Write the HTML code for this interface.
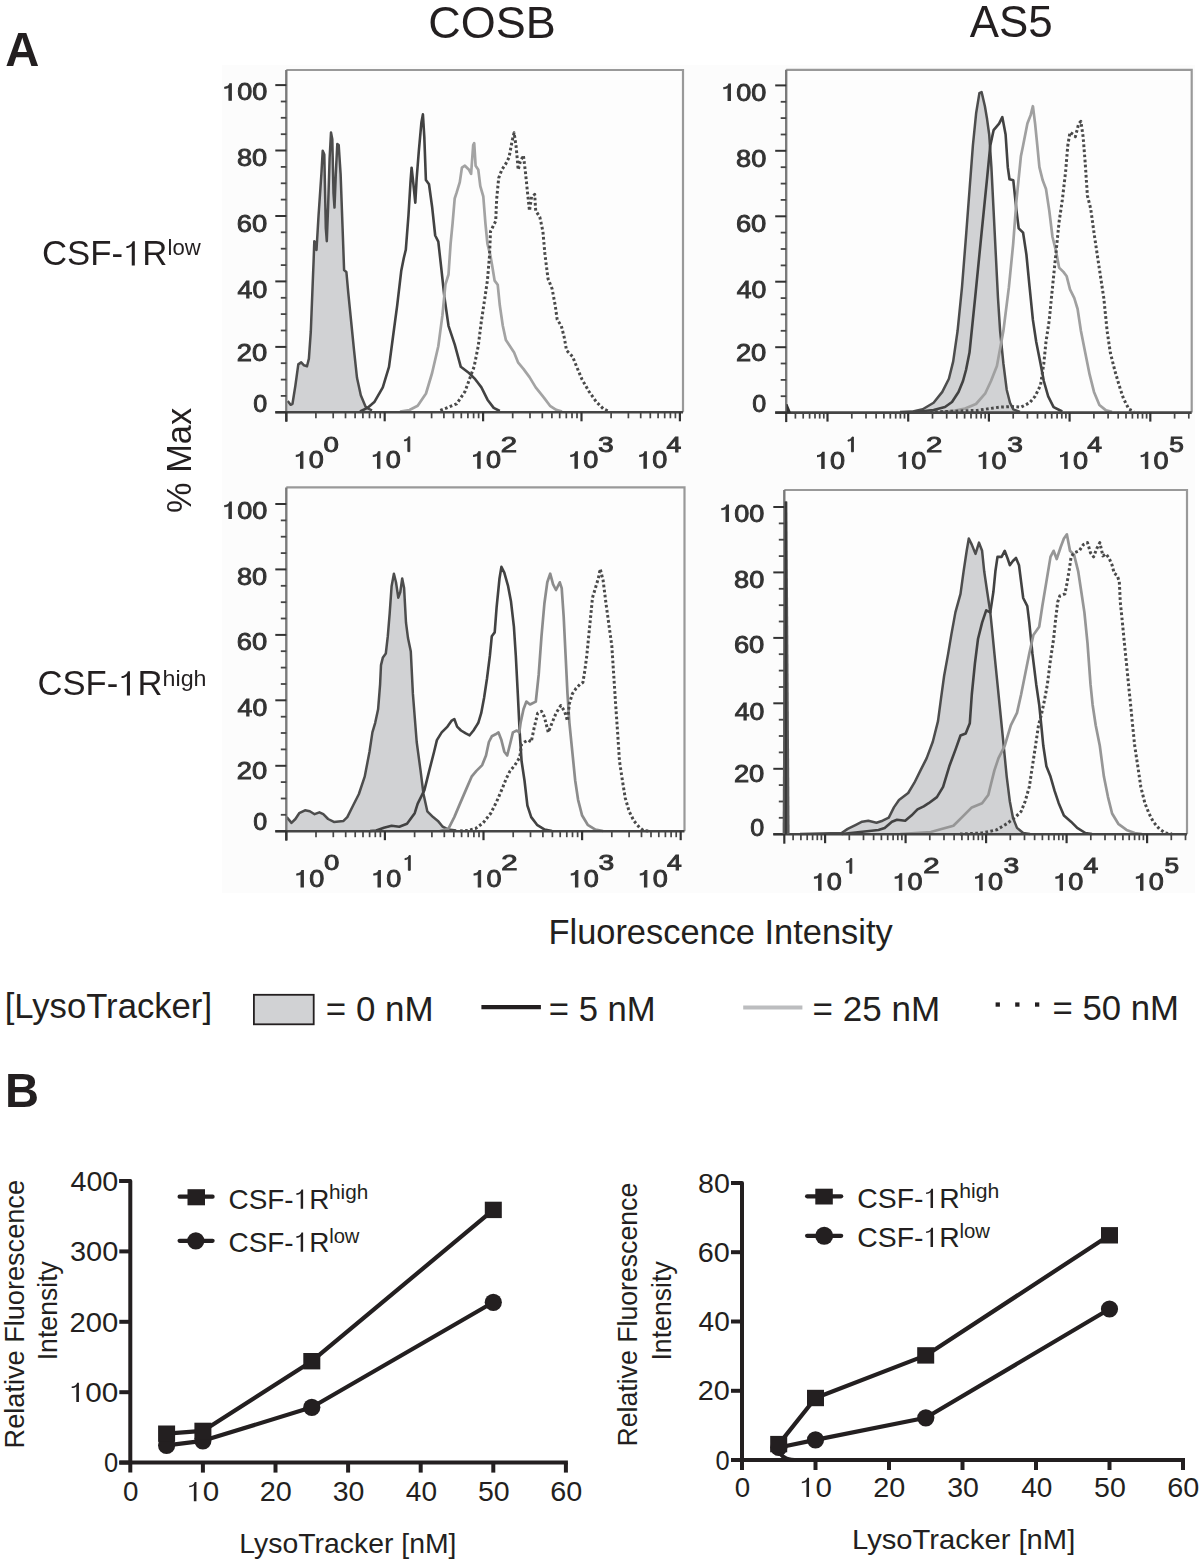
<!DOCTYPE html>
<html><head><meta charset="utf-8"><style>
html,body{margin:0;padding:0;background:#fff;}
svg{display:block;}
text{font-family:"Liberation Sans",sans-serif;}
</style></head><body>
<svg width="1200" height="1559" viewBox="0 0 1200 1559">
<defs><filter id="soft" x="0" y="0" width="1200" height="1559" filterUnits="userSpaceOnUse"><feGaussianBlur stdDeviation="0.55"/></filter></defs>
<rect width="1200" height="1559" fill="#fff"/>
<rect x="222" y="65" width="973" height="828" fill="#fcfcfc"/>
<g filter="url(#soft)">
<rect x="286.3" y="70" width="396.7" height="342.3" fill="#fdfdfd"/>
<rect x="786.2" y="69.8" width="405.5" height="342.8" fill="#fdfdfd"/>
<rect x="286.3" y="487.4" width="398.2" height="343.80000000000007" fill="#fdfdfd"/>
<rect x="784.3" y="490" width="402.70000000000005" height="344.20000000000005" fill="#fdfdfd"/>
<path d="M287.7,401.0 L290.6,404.8 L292.5,403.8 L295.4,385.5 L298.3,364.4 L301.2,362.4 L304.0,365.3 L307.0,366.3 L308.9,358.6 L310.8,331.7 L312.7,283.6 L313.7,258.5 L314.3,241.2 L315.6,243.2 L316.5,250.0 L318.5,216.2 L321.4,173.9 L322.7,150.8 L324.3,154.6 L325.8,227.8 L326.8,241.2 L328.1,206.6 L329.6,158.5 L331.0,132.5 L332.3,139.2 L333.5,193.1 L334.5,207.6 L335.8,173.9 L337.3,144.0 L338.7,145.0 L340.6,173.9 L342.5,225.8 L344.1,270.1 L346.4,272.0 L348.3,293.2 L351.2,322.0 L354.1,350.9 L357.0,377.8 L360.8,395.2 L365.6,406.7 L368.5,408.6 L372.0,410.5 L372.0,412.3 L287.7,412.3 Z" fill="#d1d2d4" stroke="none"/>
<path d="M287.7,401.0 L290.6,404.8 L292.5,403.8 L295.4,385.5 L298.3,364.4 L301.2,362.4 L304.0,365.3 L307.0,366.3 L308.9,358.6 L310.8,331.7 L312.7,283.6 L313.7,258.5 L314.3,241.2 L315.6,243.2 L316.5,250.0 L318.5,216.2 L321.4,173.9 L322.7,150.8 L324.3,154.6 L325.8,227.8 L326.8,241.2 L328.1,206.6 L329.6,158.5 L331.0,132.5 L332.3,139.2 L333.5,193.1 L334.5,207.6 L335.8,173.9 L337.3,144.0 L338.7,145.0 L340.6,173.9 L342.5,225.8 L344.1,270.1 L346.4,272.0 L348.3,293.2 L351.2,322.0 L354.1,350.9 L357.0,377.8 L360.8,395.2 L365.6,406.7 L368.5,408.6 L372.0,410.5" fill="none" stroke="#4d4d4d" stroke-width="2.5" stroke-linejoin="round" stroke-linecap="butt"/>
<path d="M360.0,411.5 L367.4,407.9 L374.6,401.7 L382.8,387.4 L389.0,366.8 L393.1,336.0 L397.2,305.3 L401.3,270.4 L403.8,258.0 L405.8,249.8 L408.5,215.0 L410.5,182.1 L411.6,167.7 L413.2,182.1 L415.3,202.6 L416.7,178.0 L418.8,151.3 L421.4,122.6 L422.9,114.4 L424.3,136.9 L425.9,180.0 L429.0,184.2 L432.1,206.7 L435.2,235.5 L438.3,241.6 L441.3,268.3 L444.4,297.0 L448.5,325.8 L454.7,344.3 L460.8,366.8 L469.0,373.0 L475.2,379.2 L481.4,387.4 L487.5,399.7 L493.7,407.9 L499.8,411.0" fill="none" stroke="#424242" stroke-width="2.6" stroke-linejoin="round" stroke-linecap="butt"/>
<path d="M400.0,411.5 L409.5,410.0 L417.7,405.8 L426.0,393.5 L432.1,373.0 L438.3,346.3 L442.4,315.5 L445.4,284.7 L448.5,274.5 L450.6,243.7 L452.6,223.2 L454.7,198.5 L456.7,192.4 L459.8,182.1 L461.9,167.7 L464.9,165.7 L469.0,169.8 L471.1,173.9 L473.2,145.2 L474.2,143.1 L475.6,165.7 L478.3,169.8 L480.3,186.2 L483.3,196.5 L485.4,223.2 L487.4,243.7 L490.5,256.0 L492.6,268.3 L494.6,280.6 L497.7,284.7 L499.8,305.3 L502.8,325.8 L505.9,340.1 L510.0,346.3 L514.1,352.5 L518.2,362.7 L523.4,368.9 L529.5,377.1 L535.7,387.4 L543.9,397.6 L550.0,405.8 L556.2,409.9 L562.0,411.5" fill="none" stroke="#a3a3a3" stroke-width="2.7" stroke-linejoin="round" stroke-linecap="butt"/>
<path d="M440.3,410.5 L456.7,403.8 L465.0,391.5 L471.0,375.0 L474.1,366.8 L478.2,346.3 L481.3,321.7 L484.4,301.1 L487.4,280.6 L489.5,256.0 L490.5,231.4 L492.6,227.3 L495.7,221.1 L496.7,198.5 L498.7,178.0 L501.8,169.8 L505.9,163.6 L509.0,157.5 L512.1,141.0 L514.1,132.8 L516.2,147.2 L518.2,169.8 L520.3,161.6 L523.4,155.4 L525.4,171.8 L527.5,192.4 L529.5,210.8 L531.6,196.5 L534.7,194.4 L535.7,210.8 L539.8,217.0 L542.9,231.4 L544.9,253.9 L548.0,278.6 L552.1,288.8 L555.2,305.3 L557.2,319.6 L561.3,325.8 L564.4,338.1 L566.5,350.4 L572.6,356.6 L576.7,366.8 L581.9,379.2 L589.0,391.5 L596.2,401.7 L603.4,408.9 L608.0,411.0" fill="none" stroke="#4a4a4a" stroke-width="3.0" stroke-linejoin="round" stroke-linecap="butt" stroke-dasharray="2.7 2.4"/>
<polyline points="286.3,70 683,70 683,412.3" fill="none" stroke="#999" stroke-width="2.2"/>
<line x1="286.3" y1="70" x2="286.3" y2="412.3" stroke="#7a7a7a" stroke-width="2.4"/>
<line x1="275.3" y1="412.3" x2="683" y2="412.3" stroke="#444" stroke-width="2.6"/>
<line x1="275.3" y1="412.3" x2="286.3" y2="412.3" stroke="#333" stroke-width="2"/>
<line x1="280.8" y1="395.9" x2="286.3" y2="395.9" stroke="#444" stroke-width="1.8"/>
<line x1="280.8" y1="379.6" x2="286.3" y2="379.6" stroke="#444" stroke-width="1.8"/>
<line x1="280.8" y1="363.2" x2="286.3" y2="363.2" stroke="#444" stroke-width="1.8"/>
<line x1="275.3" y1="346.9" x2="286.3" y2="346.9" stroke="#333" stroke-width="2"/>
<line x1="280.8" y1="330.5" x2="286.3" y2="330.5" stroke="#444" stroke-width="1.8"/>
<line x1="280.8" y1="314.1" x2="286.3" y2="314.1" stroke="#444" stroke-width="1.8"/>
<line x1="280.8" y1="297.8" x2="286.3" y2="297.8" stroke="#444" stroke-width="1.8"/>
<line x1="275.3" y1="281.4" x2="286.3" y2="281.4" stroke="#333" stroke-width="2"/>
<line x1="280.8" y1="265.1" x2="286.3" y2="265.1" stroke="#444" stroke-width="1.8"/>
<line x1="280.8" y1="248.7" x2="286.3" y2="248.7" stroke="#444" stroke-width="1.8"/>
<line x1="280.8" y1="232.3" x2="286.3" y2="232.3" stroke="#444" stroke-width="1.8"/>
<line x1="275.3" y1="216.0" x2="286.3" y2="216.0" stroke="#333" stroke-width="2"/>
<line x1="280.8" y1="199.6" x2="286.3" y2="199.6" stroke="#444" stroke-width="1.8"/>
<line x1="280.8" y1="183.3" x2="286.3" y2="183.3" stroke="#444" stroke-width="1.8"/>
<line x1="280.8" y1="166.9" x2="286.3" y2="166.9" stroke="#444" stroke-width="1.8"/>
<line x1="275.3" y1="150.5" x2="286.3" y2="150.5" stroke="#333" stroke-width="2"/>
<line x1="280.8" y1="134.2" x2="286.3" y2="134.2" stroke="#444" stroke-width="1.8"/>
<line x1="280.8" y1="117.8" x2="286.3" y2="117.8" stroke="#444" stroke-width="1.8"/>
<line x1="280.8" y1="101.5" x2="286.3" y2="101.5" stroke="#444" stroke-width="1.8"/>
<line x1="275.3" y1="85.1" x2="286.3" y2="85.1" stroke="#333" stroke-width="2"/>
<line x1="286.3" y1="412.3" x2="286.3" y2="421.3" stroke="#333" stroke-width="2.2"/>
<line x1="315.9" y1="412.3" x2="315.9" y2="418.3" stroke="#444" stroke-width="1.7"/>
<line x1="333.2" y1="412.3" x2="333.2" y2="418.3" stroke="#444" stroke-width="1.7"/>
<line x1="345.5" y1="412.3" x2="345.5" y2="418.3" stroke="#444" stroke-width="1.7"/>
<line x1="355.1" y1="412.3" x2="355.1" y2="418.3" stroke="#444" stroke-width="1.7"/>
<line x1="362.9" y1="412.3" x2="362.9" y2="418.3" stroke="#444" stroke-width="1.7"/>
<line x1="369.5" y1="412.3" x2="369.5" y2="418.3" stroke="#444" stroke-width="1.7"/>
<line x1="375.2" y1="412.3" x2="375.2" y2="418.3" stroke="#444" stroke-width="1.7"/>
<line x1="380.2" y1="412.3" x2="380.2" y2="418.3" stroke="#444" stroke-width="1.7"/>
<line x1="384.7" y1="412.3" x2="384.7" y2="421.3" stroke="#333" stroke-width="2.2"/>
<line x1="414.3" y1="412.3" x2="414.3" y2="418.3" stroke="#444" stroke-width="1.7"/>
<line x1="431.6" y1="412.3" x2="431.6" y2="418.3" stroke="#444" stroke-width="1.7"/>
<line x1="443.9" y1="412.3" x2="443.9" y2="418.3" stroke="#444" stroke-width="1.7"/>
<line x1="453.5" y1="412.3" x2="453.5" y2="418.3" stroke="#444" stroke-width="1.7"/>
<line x1="461.3" y1="412.3" x2="461.3" y2="418.3" stroke="#444" stroke-width="1.7"/>
<line x1="467.9" y1="412.3" x2="467.9" y2="418.3" stroke="#444" stroke-width="1.7"/>
<line x1="473.6" y1="412.3" x2="473.6" y2="418.3" stroke="#444" stroke-width="1.7"/>
<line x1="478.6" y1="412.3" x2="478.6" y2="418.3" stroke="#444" stroke-width="1.7"/>
<line x1="483.1" y1="412.3" x2="483.1" y2="421.3" stroke="#333" stroke-width="2.2"/>
<line x1="512.7" y1="412.3" x2="512.7" y2="418.3" stroke="#444" stroke-width="1.7"/>
<line x1="530.0" y1="412.3" x2="530.0" y2="418.3" stroke="#444" stroke-width="1.7"/>
<line x1="542.3" y1="412.3" x2="542.3" y2="418.3" stroke="#444" stroke-width="1.7"/>
<line x1="551.9" y1="412.3" x2="551.9" y2="418.3" stroke="#444" stroke-width="1.7"/>
<line x1="559.7" y1="412.3" x2="559.7" y2="418.3" stroke="#444" stroke-width="1.7"/>
<line x1="566.3" y1="412.3" x2="566.3" y2="418.3" stroke="#444" stroke-width="1.7"/>
<line x1="572.0" y1="412.3" x2="572.0" y2="418.3" stroke="#444" stroke-width="1.7"/>
<line x1="577.0" y1="412.3" x2="577.0" y2="418.3" stroke="#444" stroke-width="1.7"/>
<line x1="581.5" y1="412.3" x2="581.5" y2="421.3" stroke="#333" stroke-width="2.2"/>
<line x1="611.1" y1="412.3" x2="611.1" y2="418.3" stroke="#444" stroke-width="1.7"/>
<line x1="628.4" y1="412.3" x2="628.4" y2="418.3" stroke="#444" stroke-width="1.7"/>
<line x1="640.7" y1="412.3" x2="640.7" y2="418.3" stroke="#444" stroke-width="1.7"/>
<line x1="650.3" y1="412.3" x2="650.3" y2="418.3" stroke="#444" stroke-width="1.7"/>
<line x1="658.1" y1="412.3" x2="658.1" y2="418.3" stroke="#444" stroke-width="1.7"/>
<line x1="664.7" y1="412.3" x2="664.7" y2="418.3" stroke="#444" stroke-width="1.7"/>
<line x1="670.4" y1="412.3" x2="670.4" y2="418.3" stroke="#444" stroke-width="1.7"/>
<line x1="675.4" y1="412.3" x2="675.4" y2="418.3" stroke="#444" stroke-width="1.7"/>
<line x1="679.9" y1="412.3" x2="679.9" y2="421.3" stroke="#333" stroke-width="2.2"/>
<line x1="286.3" y1="412.3" x2="286.3" y2="421.8" stroke="#333" stroke-width="2.2"/>
<path d="M900.0,412.0 L911.8,411.6 L922.7,409.3 L933.6,402.8 L942.3,391.9 L948.9,378.8 L953.2,361.4 L957.6,330.8 L962.0,287.2 L966.3,232.7 L969.6,189.0 L972.9,145.4 L976.2,112.7 L979.4,93.1 L981.6,92.0 L984.9,106.2 L987.1,119.3 L989.2,134.5 L991.4,167.2 L993.6,210.9 L995.8,254.5 L998.0,298.1 L1000.1,330.8 L1003.4,363.5 L1006.7,389.7 L1010.0,402.8 L1013.2,409.3 L1020.0,411.8 L1020.0,412.6 L900.0,412.6 Z" fill="#d1d2d4" stroke="none"/>
<path d="M900.0,412.0 L911.8,411.6 L922.7,409.3 L933.6,402.8 L942.3,391.9 L948.9,378.8 L953.2,361.4 L957.6,330.8 L962.0,287.2 L966.3,232.7 L969.6,189.0 L972.9,145.4 L976.2,112.7 L979.4,93.1 L981.6,92.0 L984.9,106.2 L987.1,119.3 L989.2,134.5 L991.4,167.2 L993.6,210.9 L995.8,254.5 L998.0,298.1 L1000.1,330.8 L1003.4,363.5 L1006.7,389.7 L1010.0,402.8 L1013.2,409.3 L1020.0,411.8" fill="none" stroke="#4d4d4d" stroke-width="2.5" stroke-linejoin="round" stroke-linecap="butt"/>
<path d="M915.0,412.0 L933.6,410.0 L945.0,407.0 L952.0,402.0 L958.5,392.0 L963.0,381.0 L966.0,370.0 L969.5,352.6 L975.1,298.1 L981.6,232.7 L987.1,178.1 L990.3,145.4 L993.6,130.2 L999.1,123.6 L1002.3,117.1 L1005.6,134.5 L1007.8,167.2 L1009.5,179.2 L1013.3,180.3 L1016.5,210.9 L1018.7,228.3 L1023.1,232.7 L1026.4,254.5 L1029.6,287.2 L1032.9,319.9 L1036.2,341.7 L1040.5,363.5 L1043.8,381.0 L1048.2,396.3 L1053.6,407.2 L1062.3,411.5" fill="none" stroke="#424242" stroke-width="2.6" stroke-linejoin="round" stroke-linecap="butt"/>
<path d="M940.0,412.0 L955.0,410.5 L965.0,408.5 L976.0,404.0 L985.3,393.3 L991.0,381.0 L996.9,366.0 L1003.4,330.8 L1008.9,287.2 L1013.2,243.6 L1016.5,200.0 L1020.9,156.3 L1023.1,145.4 L1027.4,123.6 L1030.7,114.9 L1032.9,106.2 L1035.1,123.6 L1037.3,145.4 L1039.4,167.2 L1042.7,180.3 L1046.0,189.0 L1049.3,210.9 L1052.5,237.0 L1055.8,250.1 L1059.1,267.6 L1063.4,271.9 L1066.7,276.3 L1070.0,289.4 L1074.3,298.1 L1077.6,309.0 L1080.9,330.8 L1085.2,352.6 L1089.6,374.4 L1094.0,391.9 L1099.4,405.0 L1106.0,410.4 L1112.0,411.8" fill="none" stroke="#a0a0a0" stroke-width="2.7" stroke-linejoin="round" stroke-linecap="butt"/>
<path d="M930.0,412.0 L977.2,410.4 L999.0,407.2 L1012.0,406.5 L1020.9,407.2 L1029.6,402.8 L1035.1,396.3 L1040.5,385.3 L1043.8,363.5 L1046.0,341.7 L1049.3,319.9 L1051.4,298.1 L1053.6,276.3 L1055.8,254.5 L1059.1,221.8 L1062.3,200.0 L1065.6,171.6 L1067.8,145.4 L1070.0,132.3 L1073.2,134.5 L1075.4,136.7 L1078.7,123.6 L1080.9,121.4 L1083.1,136.7 L1085.2,162.9 L1087.4,195.6 L1090.7,208.7 L1094.0,232.7 L1097.2,254.5 L1100.5,276.3 L1103.8,298.1 L1107.1,330.8 L1110.3,352.6 L1114.7,370.1 L1119.1,385.3 L1123.4,398.4 L1128.9,409.3 L1134.0,411.5" fill="none" stroke="#4a4a4a" stroke-width="3.0" stroke-linejoin="round" stroke-linecap="butt" stroke-dasharray="2.7 2.4"/>
<polyline points="786.2,69.8 1191.7,69.8 1191.7,412.6" fill="none" stroke="#999" stroke-width="2.2"/>
<line x1="786.2" y1="69.8" x2="786.2" y2="412.6" stroke="#7a7a7a" stroke-width="2.4"/>
<line x1="775.2" y1="412.6" x2="1191.7" y2="412.6" stroke="#444" stroke-width="2.6"/>
<line x1="775.2" y1="412.6" x2="786.2" y2="412.6" stroke="#333" stroke-width="2"/>
<line x1="780.7" y1="396.2" x2="786.2" y2="396.2" stroke="#444" stroke-width="1.8"/>
<line x1="780.7" y1="379.9" x2="786.2" y2="379.9" stroke="#444" stroke-width="1.8"/>
<line x1="780.7" y1="363.5" x2="786.2" y2="363.5" stroke="#444" stroke-width="1.8"/>
<line x1="775.2" y1="347.2" x2="786.2" y2="347.2" stroke="#333" stroke-width="2"/>
<line x1="780.7" y1="330.8" x2="786.2" y2="330.8" stroke="#444" stroke-width="1.8"/>
<line x1="780.7" y1="314.4" x2="786.2" y2="314.4" stroke="#444" stroke-width="1.8"/>
<line x1="780.7" y1="298.1" x2="786.2" y2="298.1" stroke="#444" stroke-width="1.8"/>
<line x1="775.2" y1="281.7" x2="786.2" y2="281.7" stroke="#333" stroke-width="2"/>
<line x1="780.7" y1="265.4" x2="786.2" y2="265.4" stroke="#444" stroke-width="1.8"/>
<line x1="780.7" y1="249.0" x2="786.2" y2="249.0" stroke="#444" stroke-width="1.8"/>
<line x1="780.7" y1="232.6" x2="786.2" y2="232.6" stroke="#444" stroke-width="1.8"/>
<line x1="775.2" y1="216.3" x2="786.2" y2="216.3" stroke="#333" stroke-width="2"/>
<line x1="780.7" y1="199.9" x2="786.2" y2="199.9" stroke="#444" stroke-width="1.8"/>
<line x1="780.7" y1="183.6" x2="786.2" y2="183.6" stroke="#444" stroke-width="1.8"/>
<line x1="780.7" y1="167.2" x2="786.2" y2="167.2" stroke="#444" stroke-width="1.8"/>
<line x1="775.2" y1="150.8" x2="786.2" y2="150.8" stroke="#333" stroke-width="2"/>
<line x1="780.7" y1="134.5" x2="786.2" y2="134.5" stroke="#444" stroke-width="1.8"/>
<line x1="780.7" y1="118.1" x2="786.2" y2="118.1" stroke="#444" stroke-width="1.8"/>
<line x1="780.7" y1="101.8" x2="786.2" y2="101.8" stroke="#444" stroke-width="1.8"/>
<line x1="775.2" y1="85.4" x2="786.2" y2="85.4" stroke="#333" stroke-width="2"/>
<line x1="795.4" y1="412.6" x2="795.4" y2="418.6" stroke="#444" stroke-width="1.7"/>
<line x1="803.2" y1="412.6" x2="803.2" y2="418.6" stroke="#444" stroke-width="1.7"/>
<line x1="809.6" y1="412.6" x2="809.6" y2="418.6" stroke="#444" stroke-width="1.7"/>
<line x1="815.0" y1="412.6" x2="815.0" y2="418.6" stroke="#444" stroke-width="1.7"/>
<line x1="819.7" y1="412.6" x2="819.7" y2="418.6" stroke="#444" stroke-width="1.7"/>
<line x1="823.8" y1="412.6" x2="823.8" y2="418.6" stroke="#444" stroke-width="1.7"/>
<line x1="827.5" y1="412.6" x2="827.5" y2="421.6" stroke="#333" stroke-width="2.2"/>
<line x1="851.8" y1="412.6" x2="851.8" y2="418.6" stroke="#444" stroke-width="1.7"/>
<line x1="866.0" y1="412.6" x2="866.0" y2="418.6" stroke="#444" stroke-width="1.7"/>
<line x1="876.1" y1="412.6" x2="876.1" y2="418.6" stroke="#444" stroke-width="1.7"/>
<line x1="883.9" y1="412.6" x2="883.9" y2="418.6" stroke="#444" stroke-width="1.7"/>
<line x1="890.3" y1="412.6" x2="890.3" y2="418.6" stroke="#444" stroke-width="1.7"/>
<line x1="895.7" y1="412.6" x2="895.7" y2="418.6" stroke="#444" stroke-width="1.7"/>
<line x1="900.4" y1="412.6" x2="900.4" y2="418.6" stroke="#444" stroke-width="1.7"/>
<line x1="904.5" y1="412.6" x2="904.5" y2="418.6" stroke="#444" stroke-width="1.7"/>
<line x1="908.2" y1="412.6" x2="908.2" y2="421.6" stroke="#333" stroke-width="2.2"/>
<line x1="932.5" y1="412.6" x2="932.5" y2="418.6" stroke="#444" stroke-width="1.7"/>
<line x1="946.7" y1="412.6" x2="946.7" y2="418.6" stroke="#444" stroke-width="1.7"/>
<line x1="956.8" y1="412.6" x2="956.8" y2="418.6" stroke="#444" stroke-width="1.7"/>
<line x1="964.6" y1="412.6" x2="964.6" y2="418.6" stroke="#444" stroke-width="1.7"/>
<line x1="971.0" y1="412.6" x2="971.0" y2="418.6" stroke="#444" stroke-width="1.7"/>
<line x1="976.4" y1="412.6" x2="976.4" y2="418.6" stroke="#444" stroke-width="1.7"/>
<line x1="981.1" y1="412.6" x2="981.1" y2="418.6" stroke="#444" stroke-width="1.7"/>
<line x1="985.2" y1="412.6" x2="985.2" y2="418.6" stroke="#444" stroke-width="1.7"/>
<line x1="988.9" y1="412.6" x2="988.9" y2="421.6" stroke="#333" stroke-width="2.2"/>
<line x1="1013.2" y1="412.6" x2="1013.2" y2="418.6" stroke="#444" stroke-width="1.7"/>
<line x1="1027.4" y1="412.6" x2="1027.4" y2="418.6" stroke="#444" stroke-width="1.7"/>
<line x1="1037.5" y1="412.6" x2="1037.5" y2="418.6" stroke="#444" stroke-width="1.7"/>
<line x1="1045.3" y1="412.6" x2="1045.3" y2="418.6" stroke="#444" stroke-width="1.7"/>
<line x1="1051.7" y1="412.6" x2="1051.7" y2="418.6" stroke="#444" stroke-width="1.7"/>
<line x1="1057.1" y1="412.6" x2="1057.1" y2="418.6" stroke="#444" stroke-width="1.7"/>
<line x1="1061.8" y1="412.6" x2="1061.8" y2="418.6" stroke="#444" stroke-width="1.7"/>
<line x1="1065.9" y1="412.6" x2="1065.9" y2="418.6" stroke="#444" stroke-width="1.7"/>
<line x1="1069.6" y1="412.6" x2="1069.6" y2="421.6" stroke="#333" stroke-width="2.2"/>
<line x1="1093.9" y1="412.6" x2="1093.9" y2="418.6" stroke="#444" stroke-width="1.7"/>
<line x1="1108.1" y1="412.6" x2="1108.1" y2="418.6" stroke="#444" stroke-width="1.7"/>
<line x1="1118.2" y1="412.6" x2="1118.2" y2="418.6" stroke="#444" stroke-width="1.7"/>
<line x1="1126.0" y1="412.6" x2="1126.0" y2="418.6" stroke="#444" stroke-width="1.7"/>
<line x1="1132.4" y1="412.6" x2="1132.4" y2="418.6" stroke="#444" stroke-width="1.7"/>
<line x1="1137.8" y1="412.6" x2="1137.8" y2="418.6" stroke="#444" stroke-width="1.7"/>
<line x1="1142.5" y1="412.6" x2="1142.5" y2="418.6" stroke="#444" stroke-width="1.7"/>
<line x1="1146.6" y1="412.6" x2="1146.6" y2="418.6" stroke="#444" stroke-width="1.7"/>
<line x1="1150.3" y1="412.6" x2="1150.3" y2="421.6" stroke="#333" stroke-width="2.2"/>
<line x1="1174.6" y1="412.6" x2="1174.6" y2="418.6" stroke="#444" stroke-width="1.7"/>
<line x1="1188.8" y1="412.6" x2="1188.8" y2="418.6" stroke="#444" stroke-width="1.7"/>
<path d="M786.5,404 L787.5,404 L790,410 L791,413 L786.5,413 Z" fill="#333"/>
<line x1="786.2" y1="412.6" x2="786.2" y2="422.1" stroke="#333" stroke-width="2.2"/>
<path d="M286.7,817.1 L291.5,822.9 L295.4,819.0 L299.2,813.2 L305.0,810.3 L309.8,811.3 L314.6,814.2 L319.4,812.3 L323.3,814.2 L328.1,819.0 L333.9,821.9 L343.5,820.9 L347.3,817.1 L353.1,805.5 L358.9,794.0 L364.7,776.7 L369.5,751.7 L372.4,732.4 L375.2,722.8 L378.1,709.3 L380.1,684.3 L381.0,665.1 L382.9,657.4 L385.8,653.5 L387.8,636.2 L389.7,613.1 L391.6,586.2 L393.9,573.7 L396.0,582.3 L398.3,597.7 L400.3,592.0 L402.2,578.5 L404.1,588.1 L406.0,622.7 L408.0,638.1 L410.8,651.6 L412.9,693.9 L416.7,742.0 L420.6,770.9 L423.5,794.0 L427.3,811.3 L433.1,817.1 L437.9,820.9 L442.7,826.7 L448.5,829.6 L456.2,830.6 L456.2,831.2 L286.7,831.2 Z" fill="#d1d2d4" stroke="none"/>
<path d="M286.7,817.1 L291.5,822.9 L295.4,819.0 L299.2,813.2 L305.0,810.3 L309.8,811.3 L314.6,814.2 L319.4,812.3 L323.3,814.2 L328.1,819.0 L333.9,821.9 L343.5,820.9 L347.3,817.1 L353.1,805.5 L358.9,794.0 L364.7,776.7 L369.5,751.7 L372.4,732.4 L375.2,722.8 L378.1,709.3 L380.1,684.3 L381.0,665.1 L382.9,657.4 L385.8,653.5 L387.8,636.2 L389.7,613.1 L391.6,586.2 L393.9,573.7 L396.0,582.3 L398.3,597.7 L400.3,592.0 L402.2,578.5 L404.1,588.1 L406.0,622.7 L408.0,638.1 L410.8,651.6 L412.9,693.9 L416.7,742.0 L420.6,770.9 L423.5,794.0 L427.3,811.3 L433.1,817.1 L437.9,820.9 L442.7,826.7 L448.5,829.6 L456.2,830.6" fill="none" stroke="#4d4d4d" stroke-width="2.5" stroke-linejoin="round" stroke-linecap="butt"/>
<path d="M370.0,831.0 L376.2,830.5 L383.9,827.7 L391.6,825.7 L399.3,826.7 L407.0,823.8 L414.7,813.2 L417.7,803.6 L424.4,790.1 L429.2,770.9 L434.1,751.7 L436.9,740.1 L441.7,732.4 L447.5,726.6 L451.4,720.9 L454.3,719.0 L457.1,726.6 L461.0,730.5 L465.8,733.4 L469.6,735.3 L473.5,730.5 L478.3,722.8 L481.2,713.2 L484.1,697.8 L487.0,678.5 L489.9,655.5 L491.8,636.2 L494.7,632.4 L496.6,607.3 L499.5,578.5 L501.4,566.9 L504.3,572.7 L508.1,586.2 L511.0,601.6 L513.9,626.6 L515.8,655.5 L517.8,693.9 L519.7,732.4 L521.6,761.3 L524.5,780.5 L527.4,805.5 L531.2,817.1 L537.0,824.8 L544.7,829.6 L552.0,831.0" fill="none" stroke="#424242" stroke-width="2.6" stroke-linejoin="round" stroke-linecap="butt"/>
<path d="M440.0,831.0 L448.5,828.6 L454.3,817.1 L460.0,803.6 L465.8,790.1 L471.6,776.7 L476.4,770.9 L482.2,765.1 L486.0,755.5 L488.9,742.0 L491.8,736.3 L495.6,734.3 L498.5,732.4 L501.4,740.1 L504.3,751.7 L507.2,755.5 L510.1,744.0 L512.9,732.4 L516.8,730.5 L519.3,732.4 L520.6,722.8 L523.5,709.3 L526.4,701.6 L530.0,704.5 L535.8,701.6 L538.7,674.7 L541.5,636.2 L544.4,603.5 L547.3,582.3 L550.2,573.7 L553.1,584.3 L556.0,590.0 L559.8,582.3 L561.7,588.1 L563.7,617.0 L565.6,655.5 L567.5,693.9 L569.4,722.8 L572.3,751.7 L575.2,780.5 L578.1,799.8 L582.0,815.2 L587.7,824.8 L595.4,829.6 L603.1,831.0" fill="none" stroke="#8c8c8c" stroke-width="2.7" stroke-linejoin="round" stroke-linecap="butt"/>
<path d="M460.0,831.0 L467.7,830.6 L475.4,828.6 L483.1,822.9 L490.8,813.2 L496.6,801.7 L502.4,788.2 L506.2,778.6 L510.1,770.9 L514.9,765.1 L519.7,757.4 L521.6,744.0 L524.5,742.0 L528.3,740.1 L531.2,742.0 L534.1,728.0 L537.7,713.2 L541.5,711.3 L544.4,717.0 L548.3,732.4 L552.1,722.8 L556.0,713.2 L560.8,705.5 L564.6,711.3 L567.5,720.9 L569.4,703.6 L572.3,693.9 L576.2,688.2 L580.0,684.3 L582.9,682.4 L584.8,670.8 L586.8,655.5 L588.7,636.2 L590.6,617.0 L592.5,597.7 L595.4,588.1 L598.3,578.5 L600.2,568.9 L603.1,580.4 L606.0,603.5 L608.9,624.7 L611.8,645.8 L613.7,674.7 L615.6,703.6 L617.6,732.4 L619.5,761.3 L622.4,780.5 L625.2,797.8 L629.1,811.3 L633.9,820.9 L639.7,827.7 L643.5,830.6 L650.0,831.0" fill="none" stroke="#4a4a4a" stroke-width="3.0" stroke-linejoin="round" stroke-linecap="butt" stroke-dasharray="2.7 2.4"/>
<polyline points="286.3,487.4 684.5,487.4 684.5,831.2" fill="none" stroke="#999" stroke-width="2.2"/>
<line x1="286.3" y1="487.4" x2="286.3" y2="831.2" stroke="#7a7a7a" stroke-width="2.4"/>
<line x1="275.3" y1="831.2" x2="684.5" y2="831.2" stroke="#444" stroke-width="2.6"/>
<line x1="275.3" y1="831.2" x2="286.3" y2="831.2" stroke="#333" stroke-width="2"/>
<line x1="280.8" y1="814.8" x2="286.3" y2="814.8" stroke="#444" stroke-width="1.8"/>
<line x1="280.8" y1="798.5" x2="286.3" y2="798.5" stroke="#444" stroke-width="1.8"/>
<line x1="280.8" y1="782.1" x2="286.3" y2="782.1" stroke="#444" stroke-width="1.8"/>
<line x1="275.3" y1="765.8" x2="286.3" y2="765.8" stroke="#333" stroke-width="2"/>
<line x1="280.8" y1="749.4" x2="286.3" y2="749.4" stroke="#444" stroke-width="1.8"/>
<line x1="280.8" y1="733.0" x2="286.3" y2="733.0" stroke="#444" stroke-width="1.8"/>
<line x1="280.8" y1="716.7" x2="286.3" y2="716.7" stroke="#444" stroke-width="1.8"/>
<line x1="275.3" y1="700.3" x2="286.3" y2="700.3" stroke="#333" stroke-width="2"/>
<line x1="280.8" y1="684.0" x2="286.3" y2="684.0" stroke="#444" stroke-width="1.8"/>
<line x1="280.8" y1="667.6" x2="286.3" y2="667.6" stroke="#444" stroke-width="1.8"/>
<line x1="280.8" y1="651.2" x2="286.3" y2="651.2" stroke="#444" stroke-width="1.8"/>
<line x1="275.3" y1="634.9" x2="286.3" y2="634.9" stroke="#333" stroke-width="2"/>
<line x1="280.8" y1="618.5" x2="286.3" y2="618.5" stroke="#444" stroke-width="1.8"/>
<line x1="280.8" y1="602.2" x2="286.3" y2="602.2" stroke="#444" stroke-width="1.8"/>
<line x1="280.8" y1="585.8" x2="286.3" y2="585.8" stroke="#444" stroke-width="1.8"/>
<line x1="275.3" y1="569.4" x2="286.3" y2="569.4" stroke="#333" stroke-width="2"/>
<line x1="280.8" y1="553.1" x2="286.3" y2="553.1" stroke="#444" stroke-width="1.8"/>
<line x1="280.8" y1="536.7" x2="286.3" y2="536.7" stroke="#444" stroke-width="1.8"/>
<line x1="280.8" y1="520.4" x2="286.3" y2="520.4" stroke="#444" stroke-width="1.8"/>
<line x1="275.3" y1="504.0" x2="286.3" y2="504.0" stroke="#333" stroke-width="2"/>
<line x1="286.3" y1="831.2" x2="286.3" y2="840.2" stroke="#333" stroke-width="2.2"/>
<line x1="316.0" y1="831.2" x2="316.0" y2="837.2" stroke="#444" stroke-width="1.7"/>
<line x1="333.3" y1="831.2" x2="333.3" y2="837.2" stroke="#444" stroke-width="1.7"/>
<line x1="345.7" y1="831.2" x2="345.7" y2="837.2" stroke="#444" stroke-width="1.7"/>
<line x1="355.2" y1="831.2" x2="355.2" y2="837.2" stroke="#444" stroke-width="1.7"/>
<line x1="363.0" y1="831.2" x2="363.0" y2="837.2" stroke="#444" stroke-width="1.7"/>
<line x1="369.6" y1="831.2" x2="369.6" y2="837.2" stroke="#444" stroke-width="1.7"/>
<line x1="375.3" y1="831.2" x2="375.3" y2="837.2" stroke="#444" stroke-width="1.7"/>
<line x1="380.4" y1="831.2" x2="380.4" y2="837.2" stroke="#444" stroke-width="1.7"/>
<line x1="384.9" y1="831.2" x2="384.9" y2="840.2" stroke="#333" stroke-width="2.2"/>
<line x1="414.6" y1="831.2" x2="414.6" y2="837.2" stroke="#444" stroke-width="1.7"/>
<line x1="431.9" y1="831.2" x2="431.9" y2="837.2" stroke="#444" stroke-width="1.7"/>
<line x1="444.3" y1="831.2" x2="444.3" y2="837.2" stroke="#444" stroke-width="1.7"/>
<line x1="453.8" y1="831.2" x2="453.8" y2="837.2" stroke="#444" stroke-width="1.7"/>
<line x1="461.6" y1="831.2" x2="461.6" y2="837.2" stroke="#444" stroke-width="1.7"/>
<line x1="468.2" y1="831.2" x2="468.2" y2="837.2" stroke="#444" stroke-width="1.7"/>
<line x1="473.9" y1="831.2" x2="473.9" y2="837.2" stroke="#444" stroke-width="1.7"/>
<line x1="479.0" y1="831.2" x2="479.0" y2="837.2" stroke="#444" stroke-width="1.7"/>
<line x1="483.5" y1="831.2" x2="483.5" y2="840.2" stroke="#333" stroke-width="2.2"/>
<line x1="513.2" y1="831.2" x2="513.2" y2="837.2" stroke="#444" stroke-width="1.7"/>
<line x1="530.5" y1="831.2" x2="530.5" y2="837.2" stroke="#444" stroke-width="1.7"/>
<line x1="542.9" y1="831.2" x2="542.9" y2="837.2" stroke="#444" stroke-width="1.7"/>
<line x1="552.4" y1="831.2" x2="552.4" y2="837.2" stroke="#444" stroke-width="1.7"/>
<line x1="560.2" y1="831.2" x2="560.2" y2="837.2" stroke="#444" stroke-width="1.7"/>
<line x1="566.8" y1="831.2" x2="566.8" y2="837.2" stroke="#444" stroke-width="1.7"/>
<line x1="572.5" y1="831.2" x2="572.5" y2="837.2" stroke="#444" stroke-width="1.7"/>
<line x1="577.6" y1="831.2" x2="577.6" y2="837.2" stroke="#444" stroke-width="1.7"/>
<line x1="582.1" y1="831.2" x2="582.1" y2="840.2" stroke="#333" stroke-width="2.2"/>
<line x1="611.8" y1="831.2" x2="611.8" y2="837.2" stroke="#444" stroke-width="1.7"/>
<line x1="629.1" y1="831.2" x2="629.1" y2="837.2" stroke="#444" stroke-width="1.7"/>
<line x1="641.5" y1="831.2" x2="641.5" y2="837.2" stroke="#444" stroke-width="1.7"/>
<line x1="651.0" y1="831.2" x2="651.0" y2="837.2" stroke="#444" stroke-width="1.7"/>
<line x1="658.8" y1="831.2" x2="658.8" y2="837.2" stroke="#444" stroke-width="1.7"/>
<line x1="665.4" y1="831.2" x2="665.4" y2="837.2" stroke="#444" stroke-width="1.7"/>
<line x1="671.1" y1="831.2" x2="671.1" y2="837.2" stroke="#444" stroke-width="1.7"/>
<line x1="676.2" y1="831.2" x2="676.2" y2="837.2" stroke="#444" stroke-width="1.7"/>
<line x1="680.7" y1="831.2" x2="680.7" y2="840.2" stroke="#333" stroke-width="2.2"/>
<line x1="286.3" y1="831.2" x2="286.3" y2="840.7" stroke="#333" stroke-width="2.2"/>
<path d="M800.0,834.0 L841.6,833.0 L847.7,828.9 L855.9,824.8 L862.1,821.7 L868.3,820.7 L876.5,822.7 L882.6,820.7 L888.8,817.6 L893.9,807.4 L899.0,800.0 L908.2,793.0 L914.4,782.7 L920.5,770.4 L926.7,758.1 L932.8,741.7 L938.0,721.1 L941.0,698.6 L944.1,676.0 L948.2,653.4 L951.3,634.9 L955.4,612.4 L960.5,593.9 L963.6,571.3 L966.7,550.8 L968.8,538.5 L971.8,544.6 L975.5,553.9 L979.0,542.6 L982.1,550.8 L984.2,571.3 L987.2,591.8 L990.3,612.4 L992.4,632.9 L994.4,653.4 L997.5,684.2 L1000.6,715.0 L1003.7,745.8 L1006.7,776.6 L1009.8,801.2 L1012.9,817.6 L1017.0,827.9 L1023.2,833.0 L1030.0,834.0 L1030.0,834.2 L800.0,834.2 Z" fill="#d1d2d4" stroke="none"/>
<path d="M800.0,834.0 L841.6,833.0 L847.7,828.9 L855.9,824.8 L862.1,821.7 L868.3,820.7 L876.5,822.7 L882.6,820.7 L888.8,817.6 L893.9,807.4 L899.0,800.0 L908.2,793.0 L914.4,782.7 L920.5,770.4 L926.7,758.1 L932.8,741.7 L938.0,721.1 L941.0,698.6 L944.1,676.0 L948.2,653.4 L951.3,634.9 L955.4,612.4 L960.5,593.9 L963.6,571.3 L966.7,550.8 L968.8,538.5 L971.8,544.6 L975.5,553.9 L979.0,542.6 L982.1,550.8 L984.2,571.3 L987.2,591.8 L990.3,612.4 L992.4,632.9 L994.4,653.4 L997.5,684.2 L1000.6,715.0 L1003.7,745.8 L1006.7,776.6 L1009.8,801.2 L1012.9,817.6 L1017.0,827.9 L1023.2,833.0 L1030.0,834.0" fill="none" stroke="#4d4d4d" stroke-width="2.5" stroke-linejoin="round" stroke-linecap="butt"/>
<path d="M841.6,834.0 L878.5,830.0 L884.7,827.9 L891.9,821.7 L897.0,819.7 L905.2,820.7 L911.4,815.6 L917.5,809.4 L923.7,806.3 L928.7,803.2 L936.9,797.1 L943.1,786.8 L949.3,766.3 L955.4,749.9 L960.5,735.5 L965.7,733.5 L969.8,723.2 L971.8,694.5 L974.9,663.7 L978.0,639.0 L982.1,622.6 L986.2,610.3 L990.3,612.4 L993.4,591.8 L995.4,571.3 L997.5,556.9 L1001.6,556.9 L1004.7,550.8 L1007.8,559.0 L1009.8,565.2 L1012.9,561.0 L1016.0,558.0 L1019.0,565.2 L1021.1,581.6 L1023.2,598.0 L1027.3,606.2 L1029.3,622.6 L1032.4,653.4 L1036.2,684.2 L1039.2,704.7 L1041.3,725.3 L1043.3,745.8 L1046.4,766.3 L1050.5,776.6 L1054.6,790.9 L1058.7,803.2 L1063.9,815.6 L1071.0,821.7 L1077.2,827.9 L1085.4,833.0 L1092.0,834.0" fill="none" stroke="#424242" stroke-width="2.6" stroke-linejoin="round" stroke-linecap="butt"/>
<path d="M900.0,834.0 L930.8,832.0 L953.4,825.8 L961.6,817.6 L971.8,807.4 L982.1,803.2 L988.3,795.0 L991.3,782.7 L994.4,770.4 L998.5,758.1 L1004.7,745.8 L1010.8,725.3 L1017.0,712.9 L1021.1,694.5 L1025.2,673.9 L1029.3,653.4 L1033.4,635.0 L1039.2,626.7 L1042.3,606.2 L1046.4,581.6 L1050.5,556.9 L1053.6,550.8 L1056.7,559.0 L1060.8,546.7 L1063.9,538.5 L1066.9,534.4 L1070.0,550.8 L1074.1,554.9 L1078.2,571.3 L1081.3,591.8 L1084.4,612.4 L1087.5,643.2 L1090.5,684.2 L1092.6,704.7 L1095.7,725.3 L1099.8,745.8 L1103.9,776.6 L1108.0,797.1 L1112.1,813.5 L1118.3,823.8 L1126.5,829.9 L1134.7,833.0 L1142.0,834.0" fill="none" stroke="#969696" stroke-width="2.7" stroke-linejoin="round" stroke-linecap="butt"/>
<path d="M960.0,834.0 L982.1,833.0 L996.5,829.9 L1006.7,823.8 L1014.9,817.6 L1021.1,811.5 L1025.2,801.2 L1029.3,786.8 L1032.4,766.3 L1035.5,745.8 L1038.5,725.3 L1041.3,715.0 L1044.4,700.6 L1047.4,684.2 L1050.5,659.6 L1053.6,639.0 L1055.7,618.5 L1057.7,602.1 L1059.8,596.0 L1064.9,593.9 L1066.9,583.6 L1069.0,571.3 L1071.1,556.9 L1074.1,552.8 L1079.3,550.8 L1083.4,544.6 L1087.5,542.6 L1090.5,552.8 L1093.6,556.9 L1096.7,548.7 L1099.8,542.6 L1102.9,555.9 L1105.9,553.9 L1109.0,558.0 L1112.1,565.2 L1114.2,573.4 L1117.2,575.4 L1119.3,581.6 L1120.3,602.1 L1122.4,622.6 L1124.4,643.2 L1126.5,663.7 L1128.5,684.2 L1130.6,704.7 L1132.6,725.3 L1134.7,745.8 L1137.8,766.3 L1140.8,786.8 L1144.9,803.2 L1149.0,813.5 L1153.2,821.7 L1159.3,828.9 L1165.5,833.0 L1172.0,834.0" fill="none" stroke="#4a4a4a" stroke-width="3.0" stroke-linejoin="round" stroke-linecap="butt" stroke-dasharray="2.7 2.4"/>
<polyline points="784.3,490 1187,490 1187,834.2" fill="none" stroke="#999" stroke-width="2.2"/>
<line x1="784.3" y1="490" x2="784.3" y2="834.2" stroke="#7a7a7a" stroke-width="2.4"/>
<line x1="773.3" y1="834.2" x2="1187" y2="834.2" stroke="#444" stroke-width="2.6"/>
<line x1="773.3" y1="834.2" x2="784.3" y2="834.2" stroke="#333" stroke-width="2"/>
<line x1="778.8" y1="817.8" x2="784.3" y2="817.8" stroke="#444" stroke-width="1.8"/>
<line x1="778.8" y1="801.5" x2="784.3" y2="801.5" stroke="#444" stroke-width="1.8"/>
<line x1="778.8" y1="785.1" x2="784.3" y2="785.1" stroke="#444" stroke-width="1.8"/>
<line x1="773.3" y1="768.8" x2="784.3" y2="768.8" stroke="#333" stroke-width="2"/>
<line x1="778.8" y1="752.4" x2="784.3" y2="752.4" stroke="#444" stroke-width="1.8"/>
<line x1="778.8" y1="736.0" x2="784.3" y2="736.0" stroke="#444" stroke-width="1.8"/>
<line x1="778.8" y1="719.7" x2="784.3" y2="719.7" stroke="#444" stroke-width="1.8"/>
<line x1="773.3" y1="703.3" x2="784.3" y2="703.3" stroke="#333" stroke-width="2"/>
<line x1="778.8" y1="687.0" x2="784.3" y2="687.0" stroke="#444" stroke-width="1.8"/>
<line x1="778.8" y1="670.6" x2="784.3" y2="670.6" stroke="#444" stroke-width="1.8"/>
<line x1="778.8" y1="654.2" x2="784.3" y2="654.2" stroke="#444" stroke-width="1.8"/>
<line x1="773.3" y1="637.9" x2="784.3" y2="637.9" stroke="#333" stroke-width="2"/>
<line x1="778.8" y1="621.5" x2="784.3" y2="621.5" stroke="#444" stroke-width="1.8"/>
<line x1="778.8" y1="605.2" x2="784.3" y2="605.2" stroke="#444" stroke-width="1.8"/>
<line x1="778.8" y1="588.8" x2="784.3" y2="588.8" stroke="#444" stroke-width="1.8"/>
<line x1="773.3" y1="572.4" x2="784.3" y2="572.4" stroke="#333" stroke-width="2"/>
<line x1="778.8" y1="556.1" x2="784.3" y2="556.1" stroke="#444" stroke-width="1.8"/>
<line x1="778.8" y1="539.7" x2="784.3" y2="539.7" stroke="#444" stroke-width="1.8"/>
<line x1="778.8" y1="523.4" x2="784.3" y2="523.4" stroke="#444" stroke-width="1.8"/>
<line x1="773.3" y1="507.0" x2="784.3" y2="507.0" stroke="#333" stroke-width="2"/>
<line x1="793.1" y1="834.2" x2="793.1" y2="840.2" stroke="#444" stroke-width="1.7"/>
<line x1="800.9" y1="834.2" x2="800.9" y2="840.2" stroke="#444" stroke-width="1.7"/>
<line x1="807.2" y1="834.2" x2="807.2" y2="840.2" stroke="#444" stroke-width="1.7"/>
<line x1="812.6" y1="834.2" x2="812.6" y2="840.2" stroke="#444" stroke-width="1.7"/>
<line x1="817.3" y1="834.2" x2="817.3" y2="840.2" stroke="#444" stroke-width="1.7"/>
<line x1="821.4" y1="834.2" x2="821.4" y2="840.2" stroke="#444" stroke-width="1.7"/>
<line x1="825.1" y1="834.2" x2="825.1" y2="843.2" stroke="#333" stroke-width="2.2"/>
<line x1="849.3" y1="834.2" x2="849.3" y2="840.2" stroke="#444" stroke-width="1.7"/>
<line x1="863.5" y1="834.2" x2="863.5" y2="840.2" stroke="#444" stroke-width="1.7"/>
<line x1="873.6" y1="834.2" x2="873.6" y2="840.2" stroke="#444" stroke-width="1.7"/>
<line x1="881.4" y1="834.2" x2="881.4" y2="840.2" stroke="#444" stroke-width="1.7"/>
<line x1="887.7" y1="834.2" x2="887.7" y2="840.2" stroke="#444" stroke-width="1.7"/>
<line x1="893.1" y1="834.2" x2="893.1" y2="840.2" stroke="#444" stroke-width="1.7"/>
<line x1="897.8" y1="834.2" x2="897.8" y2="840.2" stroke="#444" stroke-width="1.7"/>
<line x1="901.9" y1="834.2" x2="901.9" y2="840.2" stroke="#444" stroke-width="1.7"/>
<line x1="905.6" y1="834.2" x2="905.6" y2="843.2" stroke="#333" stroke-width="2.2"/>
<line x1="929.8" y1="834.2" x2="929.8" y2="840.2" stroke="#444" stroke-width="1.7"/>
<line x1="944.0" y1="834.2" x2="944.0" y2="840.2" stroke="#444" stroke-width="1.7"/>
<line x1="954.1" y1="834.2" x2="954.1" y2="840.2" stroke="#444" stroke-width="1.7"/>
<line x1="961.9" y1="834.2" x2="961.9" y2="840.2" stroke="#444" stroke-width="1.7"/>
<line x1="968.2" y1="834.2" x2="968.2" y2="840.2" stroke="#444" stroke-width="1.7"/>
<line x1="973.6" y1="834.2" x2="973.6" y2="840.2" stroke="#444" stroke-width="1.7"/>
<line x1="978.3" y1="834.2" x2="978.3" y2="840.2" stroke="#444" stroke-width="1.7"/>
<line x1="982.4" y1="834.2" x2="982.4" y2="840.2" stroke="#444" stroke-width="1.7"/>
<line x1="986.1" y1="834.2" x2="986.1" y2="843.2" stroke="#333" stroke-width="2.2"/>
<line x1="1010.3" y1="834.2" x2="1010.3" y2="840.2" stroke="#444" stroke-width="1.7"/>
<line x1="1024.5" y1="834.2" x2="1024.5" y2="840.2" stroke="#444" stroke-width="1.7"/>
<line x1="1034.6" y1="834.2" x2="1034.6" y2="840.2" stroke="#444" stroke-width="1.7"/>
<line x1="1042.4" y1="834.2" x2="1042.4" y2="840.2" stroke="#444" stroke-width="1.7"/>
<line x1="1048.7" y1="834.2" x2="1048.7" y2="840.2" stroke="#444" stroke-width="1.7"/>
<line x1="1054.1" y1="834.2" x2="1054.1" y2="840.2" stroke="#444" stroke-width="1.7"/>
<line x1="1058.8" y1="834.2" x2="1058.8" y2="840.2" stroke="#444" stroke-width="1.7"/>
<line x1="1062.9" y1="834.2" x2="1062.9" y2="840.2" stroke="#444" stroke-width="1.7"/>
<line x1="1066.6" y1="834.2" x2="1066.6" y2="843.2" stroke="#333" stroke-width="2.2"/>
<line x1="1090.8" y1="834.2" x2="1090.8" y2="840.2" stroke="#444" stroke-width="1.7"/>
<line x1="1105.0" y1="834.2" x2="1105.0" y2="840.2" stroke="#444" stroke-width="1.7"/>
<line x1="1115.1" y1="834.2" x2="1115.1" y2="840.2" stroke="#444" stroke-width="1.7"/>
<line x1="1122.9" y1="834.2" x2="1122.9" y2="840.2" stroke="#444" stroke-width="1.7"/>
<line x1="1129.2" y1="834.2" x2="1129.2" y2="840.2" stroke="#444" stroke-width="1.7"/>
<line x1="1134.6" y1="834.2" x2="1134.6" y2="840.2" stroke="#444" stroke-width="1.7"/>
<line x1="1139.3" y1="834.2" x2="1139.3" y2="840.2" stroke="#444" stroke-width="1.7"/>
<line x1="1143.4" y1="834.2" x2="1143.4" y2="840.2" stroke="#444" stroke-width="1.7"/>
<line x1="1147.1" y1="834.2" x2="1147.1" y2="843.2" stroke="#333" stroke-width="2.2"/>
<line x1="1171.3" y1="834.2" x2="1171.3" y2="840.2" stroke="#444" stroke-width="1.7"/>
<line x1="1185.5" y1="834.2" x2="1185.5" y2="840.2" stroke="#444" stroke-width="1.7"/>
<path d="M784.4,501.5 L787.4,501.5 L789.6,834 L782.6,834 Z" fill="#5a5a5a"/>
<line x1="785.9" y1="501.5" x2="785.9" y2="834" stroke="#383838" stroke-width="2"/>
<line x1="784.3" y1="834.2" x2="784.3" y2="843.7" stroke="#333" stroke-width="2.2"/>
<text x="222.15" y="100.25" font-size="24" font-weight="normal" fill="#333" textLength="45.09" lengthAdjust="spacingAndGlyphs" stroke="#333" stroke-width="0.9"> 00</text>
<path transform="translate(222.15,100.25) scale(27.027,24.000)" d="M0.340,0 L0.340,-0.688 L0.282,-0.688 C0.262,-0.615 0.19,-0.556 0.096,-0.548 L0.096,-0.494 C0.16,-0.497 0.215,-0.52 0.2515,-0.555 L0.2515,0 Z" fill="#333" stroke="#333" stroke-width="0.0375"/>
<text x="237.03" y="166.45" font-size="24" font-weight="normal" fill="#333" textLength="30.21" lengthAdjust="spacingAndGlyphs" stroke="#333" stroke-width="0.9">80</text>
<text x="236.83" y="231.55" font-size="24" font-weight="normal" fill="#333" textLength="30.41" lengthAdjust="spacingAndGlyphs" stroke="#333" stroke-width="0.9">60</text>
<text x="237.61" y="297.75" font-size="24" font-weight="normal" fill="#333" textLength="29.61" lengthAdjust="spacingAndGlyphs" stroke="#333" stroke-width="0.9">40</text>
<text x="236.83" y="360.55" font-size="24" font-weight="normal" fill="#333" textLength="30.41" lengthAdjust="spacingAndGlyphs" stroke="#333" stroke-width="0.9">20</text>
<text x="253.22" y="411.55" font-size="24" font-weight="normal" fill="#333" textLength="13.93" lengthAdjust="spacingAndGlyphs" stroke="#333" stroke-width="0.9">0</text>
<text x="721.25" y="100.55" font-size="24" font-weight="normal" fill="#333" textLength="45.09" lengthAdjust="spacingAndGlyphs" stroke="#333" stroke-width="0.9"> 00</text>
<path transform="translate(721.25,100.55) scale(27.027,24.000)" d="M0.340,0 L0.340,-0.688 L0.282,-0.688 C0.262,-0.615 0.19,-0.556 0.096,-0.548 L0.096,-0.494 C0.16,-0.497 0.215,-0.52 0.2515,-0.555 L0.2515,0 Z" fill="#333" stroke="#333" stroke-width="0.0375"/>
<text x="736.13" y="166.75" font-size="24" font-weight="normal" fill="#333" textLength="30.21" lengthAdjust="spacingAndGlyphs" stroke="#333" stroke-width="0.9">80</text>
<text x="735.93" y="231.85" font-size="24" font-weight="normal" fill="#333" textLength="30.41" lengthAdjust="spacingAndGlyphs" stroke="#333" stroke-width="0.9">60</text>
<text x="736.71" y="298.05" font-size="24" font-weight="normal" fill="#333" textLength="29.61" lengthAdjust="spacingAndGlyphs" stroke="#333" stroke-width="0.9">40</text>
<text x="735.93" y="360.85" font-size="24" font-weight="normal" fill="#333" textLength="30.41" lengthAdjust="spacingAndGlyphs" stroke="#333" stroke-width="0.9">20</text>
<text x="752.32" y="411.85" font-size="24" font-weight="normal" fill="#333" textLength="13.93" lengthAdjust="spacingAndGlyphs" stroke="#333" stroke-width="0.9">0</text>
<text x="222.15" y="518.55" font-size="24" font-weight="normal" fill="#333" textLength="45.09" lengthAdjust="spacingAndGlyphs" stroke="#333" stroke-width="0.9"> 00</text>
<path transform="translate(222.15,518.55) scale(27.027,24.000)" d="M0.340,0 L0.340,-0.688 L0.282,-0.688 C0.262,-0.615 0.19,-0.556 0.096,-0.548 L0.096,-0.494 C0.16,-0.497 0.215,-0.52 0.2515,-0.555 L0.2515,0 Z" fill="#333" stroke="#333" stroke-width="0.0375"/>
<text x="237.03" y="584.75" font-size="24" font-weight="normal" fill="#333" textLength="30.21" lengthAdjust="spacingAndGlyphs" stroke="#333" stroke-width="0.9">80</text>
<text x="236.83" y="649.85" font-size="24" font-weight="normal" fill="#333" textLength="30.41" lengthAdjust="spacingAndGlyphs" stroke="#333" stroke-width="0.9">60</text>
<text x="237.61" y="716.05" font-size="24" font-weight="normal" fill="#333" textLength="29.61" lengthAdjust="spacingAndGlyphs" stroke="#333" stroke-width="0.9">40</text>
<text x="236.83" y="778.85" font-size="24" font-weight="normal" fill="#333" textLength="30.41" lengthAdjust="spacingAndGlyphs" stroke="#333" stroke-width="0.9">20</text>
<text x="253.22" y="829.85" font-size="24" font-weight="normal" fill="#333" textLength="13.93" lengthAdjust="spacingAndGlyphs" stroke="#333" stroke-width="0.9">0</text>
<text x="719.25" y="521.55" font-size="24" font-weight="normal" fill="#333" textLength="45.09" lengthAdjust="spacingAndGlyphs" stroke="#333" stroke-width="0.9"> 00</text>
<path transform="translate(719.25,521.55) scale(27.027,24.000)" d="M0.340,0 L0.340,-0.688 L0.282,-0.688 C0.262,-0.615 0.19,-0.556 0.096,-0.548 L0.096,-0.494 C0.16,-0.497 0.215,-0.52 0.2515,-0.555 L0.2515,0 Z" fill="#333" stroke="#333" stroke-width="0.0375"/>
<text x="734.13" y="587.65" font-size="24" font-weight="normal" fill="#333" textLength="30.21" lengthAdjust="spacingAndGlyphs" stroke="#333" stroke-width="0.9">80</text>
<text x="733.93" y="652.55" font-size="24" font-weight="normal" fill="#333" textLength="30.41" lengthAdjust="spacingAndGlyphs" stroke="#333" stroke-width="0.9">60</text>
<text x="734.71" y="719.75" font-size="24" font-weight="normal" fill="#333" textLength="29.61" lengthAdjust="spacingAndGlyphs" stroke="#333" stroke-width="0.9">40</text>
<text x="733.93" y="782.35" font-size="24" font-weight="normal" fill="#333" textLength="30.41" lengthAdjust="spacingAndGlyphs" stroke="#333" stroke-width="0.9">20</text>
<text x="750.32" y="835.95" font-size="24" font-weight="normal" fill="#333" textLength="13.93" lengthAdjust="spacingAndGlyphs" stroke="#333" stroke-width="0.9">0</text>
<text x="293.69" y="468.30" font-size="24" font-weight="normal" fill="#333" textLength="30.09" lengthAdjust="spacingAndGlyphs" stroke="#333" stroke-width="0.9"> 0</text>
<path transform="translate(293.69,468.30) scale(27.054,24.000)" d="M0.340,0 L0.340,-0.688 L0.282,-0.688 C0.262,-0.615 0.19,-0.556 0.096,-0.548 L0.096,-0.494 C0.16,-0.497 0.215,-0.52 0.2515,-0.555 L0.2515,0 Z" fill="#333" stroke="#333" stroke-width="0.0375"/>
<text x="323.53" y="451.60" font-size="21.5" font-weight="normal" fill="#333" textLength="15.33" lengthAdjust="spacingAndGlyphs" stroke="#333" stroke-width="0.9">0</text>
<text x="294.19" y="887.00" font-size="24" font-weight="normal" fill="#333" textLength="30.09" lengthAdjust="spacingAndGlyphs" stroke="#333" stroke-width="0.9"> 0</text>
<path transform="translate(294.19,887.00) scale(27.054,24.000)" d="M0.340,0 L0.340,-0.688 L0.282,-0.688 C0.262,-0.615 0.19,-0.556 0.096,-0.548 L0.096,-0.494 C0.16,-0.497 0.215,-0.52 0.2515,-0.555 L0.2515,0 Z" fill="#333" stroke="#333" stroke-width="0.0375"/>
<text x="324.03" y="870.30" font-size="21.5" font-weight="normal" fill="#333" textLength="15.33" lengthAdjust="spacingAndGlyphs" stroke="#333" stroke-width="0.9">0</text>
<text x="370.69" y="468.30" font-size="24" font-weight="normal" fill="#333" textLength="30.09" lengthAdjust="spacingAndGlyphs" stroke="#333" stroke-width="0.9"> 0</text>
<path transform="translate(370.69,468.30) scale(27.054,24.000)" d="M0.340,0 L0.340,-0.688 L0.282,-0.688 C0.262,-0.615 0.19,-0.556 0.096,-0.548 L0.096,-0.494 C0.16,-0.497 0.215,-0.52 0.2515,-0.555 L0.2515,0 Z" fill="#333" stroke="#333" stroke-width="0.0375"/>
<text x="402.33" y="451.60" font-size="21.5" font-weight="normal" fill="#333" textLength="12.23" lengthAdjust="spacingAndGlyphs" stroke="#333" stroke-width="0.9"> </text>
<path transform="translate(402.33,451.60) scale(21.991,21.500)" d="M0.340,0 L0.340,-0.688 L0.282,-0.688 C0.262,-0.615 0.19,-0.556 0.096,-0.548 L0.096,-0.494 C0.16,-0.497 0.215,-0.52 0.2515,-0.555 L0.2515,0 Z" fill="#333" stroke="#333" stroke-width="0.0419"/>
<text x="371.19" y="887.00" font-size="24" font-weight="normal" fill="#333" textLength="30.09" lengthAdjust="spacingAndGlyphs" stroke="#333" stroke-width="0.9"> 0</text>
<path transform="translate(371.19,887.00) scale(27.054,24.000)" d="M0.340,0 L0.340,-0.688 L0.282,-0.688 C0.262,-0.615 0.19,-0.556 0.096,-0.548 L0.096,-0.494 C0.16,-0.497 0.215,-0.52 0.2515,-0.555 L0.2515,0 Z" fill="#333" stroke="#333" stroke-width="0.0375"/>
<text x="402.83" y="870.30" font-size="21.5" font-weight="normal" fill="#333" textLength="12.23" lengthAdjust="spacingAndGlyphs" stroke="#333" stroke-width="0.9"> </text>
<path transform="translate(402.83,870.30) scale(21.991,21.500)" d="M0.340,0 L0.340,-0.688 L0.282,-0.688 C0.262,-0.615 0.19,-0.556 0.096,-0.548 L0.096,-0.494 C0.16,-0.497 0.215,-0.52 0.2515,-0.555 L0.2515,0 Z" fill="#333" stroke="#333" stroke-width="0.0419"/>
<text x="470.94" y="468.30" font-size="24" font-weight="normal" fill="#333" textLength="30.09" lengthAdjust="spacingAndGlyphs" stroke="#333" stroke-width="0.9"> 0</text>
<path transform="translate(470.94,468.30) scale(27.054,24.000)" d="M0.340,0 L0.340,-0.688 L0.282,-0.688 C0.262,-0.615 0.19,-0.556 0.096,-0.548 L0.096,-0.494 C0.16,-0.497 0.215,-0.52 0.2515,-0.555 L0.2515,0 Z" fill="#333" stroke="#333" stroke-width="0.0375"/>
<text x="500.73" y="451.60" font-size="21.5" font-weight="normal" fill="#333" textLength="16.34" lengthAdjust="spacingAndGlyphs" stroke="#333" stroke-width="0.9">2</text>
<text x="471.44" y="887.00" font-size="24" font-weight="normal" fill="#333" textLength="30.09" lengthAdjust="spacingAndGlyphs" stroke="#333" stroke-width="0.9"> 0</text>
<path transform="translate(471.44,887.00) scale(27.054,24.000)" d="M0.340,0 L0.340,-0.688 L0.282,-0.688 C0.262,-0.615 0.19,-0.556 0.096,-0.548 L0.096,-0.494 C0.16,-0.497 0.215,-0.52 0.2515,-0.555 L0.2515,0 Z" fill="#333" stroke="#333" stroke-width="0.0375"/>
<text x="501.23" y="870.30" font-size="21.5" font-weight="normal" fill="#333" textLength="16.34" lengthAdjust="spacingAndGlyphs" stroke="#333" stroke-width="0.9">2</text>
<text x="568.14" y="468.30" font-size="24" font-weight="normal" fill="#333" textLength="30.09" lengthAdjust="spacingAndGlyphs" stroke="#333" stroke-width="0.9"> 0</text>
<path transform="translate(568.14,468.30) scale(27.054,24.000)" d="M0.340,0 L0.340,-0.688 L0.282,-0.688 C0.262,-0.615 0.19,-0.556 0.096,-0.548 L0.096,-0.494 C0.16,-0.497 0.215,-0.52 0.2515,-0.555 L0.2515,0 Z" fill="#333" stroke="#333" stroke-width="0.0375"/>
<text x="597.93" y="451.60" font-size="21.5" font-weight="normal" fill="#333" textLength="15.69" lengthAdjust="spacingAndGlyphs" stroke="#333" stroke-width="0.9">3</text>
<text x="568.64" y="887.00" font-size="24" font-weight="normal" fill="#333" textLength="30.09" lengthAdjust="spacingAndGlyphs" stroke="#333" stroke-width="0.9"> 0</text>
<path transform="translate(568.64,887.00) scale(27.054,24.000)" d="M0.340,0 L0.340,-0.688 L0.282,-0.688 C0.262,-0.615 0.19,-0.556 0.096,-0.548 L0.096,-0.494 C0.16,-0.497 0.215,-0.52 0.2515,-0.555 L0.2515,0 Z" fill="#333" stroke="#333" stroke-width="0.0375"/>
<text x="598.43" y="870.30" font-size="21.5" font-weight="normal" fill="#333" textLength="15.69" lengthAdjust="spacingAndGlyphs" stroke="#333" stroke-width="0.9">3</text>
<text x="637.14" y="468.30" font-size="24" font-weight="normal" fill="#333" textLength="30.09" lengthAdjust="spacingAndGlyphs" stroke="#333" stroke-width="0.9"> 0</text>
<path transform="translate(637.14,468.30) scale(27.054,24.000)" d="M0.340,0 L0.340,-0.688 L0.282,-0.688 C0.262,-0.615 0.19,-0.556 0.096,-0.548 L0.096,-0.494 C0.16,-0.497 0.215,-0.52 0.2515,-0.555 L0.2515,0 Z" fill="#333" stroke="#333" stroke-width="0.0375"/>
<text x="666.42" y="451.60" font-size="21.5" font-weight="normal" fill="#333" textLength="14.76" lengthAdjust="spacingAndGlyphs" stroke="#333" stroke-width="0.9">4</text>
<text x="637.64" y="887.00" font-size="24" font-weight="normal" fill="#333" textLength="30.09" lengthAdjust="spacingAndGlyphs" stroke="#333" stroke-width="0.9"> 0</text>
<path transform="translate(637.64,887.00) scale(27.054,24.000)" d="M0.340,0 L0.340,-0.688 L0.282,-0.688 C0.262,-0.615 0.19,-0.556 0.096,-0.548 L0.096,-0.494 C0.16,-0.497 0.215,-0.52 0.2515,-0.555 L0.2515,0 Z" fill="#333" stroke="#333" stroke-width="0.0375"/>
<text x="666.92" y="870.30" font-size="21.5" font-weight="normal" fill="#333" textLength="14.76" lengthAdjust="spacingAndGlyphs" stroke="#333" stroke-width="0.9">4</text>
<text x="814.94" y="468.60" font-size="24" font-weight="normal" fill="#333" textLength="30.09" lengthAdjust="spacingAndGlyphs" stroke="#333" stroke-width="0.9"> 0</text>
<path transform="translate(814.94,468.60) scale(27.054,24.000)" d="M0.340,0 L0.340,-0.688 L0.282,-0.688 C0.262,-0.615 0.19,-0.556 0.096,-0.548 L0.096,-0.494 C0.16,-0.497 0.215,-0.52 0.2515,-0.555 L0.2515,0 Z" fill="#333" stroke="#333" stroke-width="0.0375"/>
<text x="845.93" y="451.80" font-size="21.5" font-weight="normal" fill="#333" textLength="12.23" lengthAdjust="spacingAndGlyphs" stroke="#333" stroke-width="0.9"> </text>
<path transform="translate(845.93,451.80) scale(21.991,21.500)" d="M0.340,0 L0.340,-0.688 L0.282,-0.688 C0.262,-0.615 0.19,-0.556 0.096,-0.548 L0.096,-0.494 C0.16,-0.497 0.215,-0.52 0.2515,-0.555 L0.2515,0 Z" fill="#333" stroke="#333" stroke-width="0.0419"/>
<text x="896.34" y="468.60" font-size="24" font-weight="normal" fill="#333" textLength="30.09" lengthAdjust="spacingAndGlyphs" stroke="#333" stroke-width="0.9"> 0</text>
<path transform="translate(896.34,468.60) scale(27.054,24.000)" d="M0.340,0 L0.340,-0.688 L0.282,-0.688 C0.262,-0.615 0.19,-0.556 0.096,-0.548 L0.096,-0.494 C0.16,-0.497 0.215,-0.52 0.2515,-0.555 L0.2515,0 Z" fill="#333" stroke="#333" stroke-width="0.0375"/>
<text x="926.13" y="451.80" font-size="21.5" font-weight="normal" fill="#333" textLength="16.34" lengthAdjust="spacingAndGlyphs" stroke="#333" stroke-width="0.9">2</text>
<text x="976.54" y="468.60" font-size="24" font-weight="normal" fill="#333" textLength="30.09" lengthAdjust="spacingAndGlyphs" stroke="#333" stroke-width="0.9"> 0</text>
<path transform="translate(976.54,468.60) scale(27.054,24.000)" d="M0.340,0 L0.340,-0.688 L0.282,-0.688 C0.262,-0.615 0.19,-0.556 0.096,-0.548 L0.096,-0.494 C0.16,-0.497 0.215,-0.52 0.2515,-0.555 L0.2515,0 Z" fill="#333" stroke="#333" stroke-width="0.0375"/>
<text x="1007.23" y="451.80" font-size="21.5" font-weight="normal" fill="#333" textLength="15.69" lengthAdjust="spacingAndGlyphs" stroke="#333" stroke-width="0.9">3</text>
<text x="1057.94" y="468.60" font-size="24" font-weight="normal" fill="#333" textLength="30.09" lengthAdjust="spacingAndGlyphs" stroke="#333" stroke-width="0.9"> 0</text>
<path transform="translate(1057.94,468.60) scale(27.054,24.000)" d="M0.340,0 L0.340,-0.688 L0.282,-0.688 C0.262,-0.615 0.19,-0.556 0.096,-0.548 L0.096,-0.494 C0.16,-0.497 0.215,-0.52 0.2515,-0.555 L0.2515,0 Z" fill="#333" stroke="#333" stroke-width="0.0375"/>
<text x="1087.32" y="451.80" font-size="21.5" font-weight="normal" fill="#333" textLength="14.76" lengthAdjust="spacingAndGlyphs" stroke="#333" stroke-width="0.9">4</text>
<text x="1138.54" y="468.60" font-size="24" font-weight="normal" fill="#333" textLength="30.09" lengthAdjust="spacingAndGlyphs" stroke="#333" stroke-width="0.9"> 0</text>
<path transform="translate(1138.54,468.60) scale(27.054,24.000)" d="M0.340,0 L0.340,-0.688 L0.282,-0.688 C0.262,-0.615 0.19,-0.556 0.096,-0.548 L0.096,-0.494 C0.16,-0.497 0.215,-0.52 0.2515,-0.555 L0.2515,0 Z" fill="#333" stroke="#333" stroke-width="0.0375"/>
<text x="1169.25" y="451.80" font-size="21.5" font-weight="normal" fill="#333" textLength="14.64" lengthAdjust="spacingAndGlyphs" stroke="#333" stroke-width="0.9">5</text>
<text x="811.84" y="890.20" font-size="24" font-weight="normal" fill="#333" textLength="30.09" lengthAdjust="spacingAndGlyphs" stroke="#333" stroke-width="0.9"> 0</text>
<path transform="translate(811.84,890.20) scale(27.054,24.000)" d="M0.340,0 L0.340,-0.688 L0.282,-0.688 C0.262,-0.615 0.19,-0.556 0.096,-0.548 L0.096,-0.494 C0.16,-0.497 0.215,-0.52 0.2515,-0.555 L0.2515,0 Z" fill="#333" stroke="#333" stroke-width="0.0375"/>
<text x="844.33" y="873.30" font-size="21.5" font-weight="normal" fill="#333" textLength="12.23" lengthAdjust="spacingAndGlyphs" stroke="#333" stroke-width="0.9"> </text>
<path transform="translate(844.33,873.30) scale(21.991,21.500)" d="M0.340,0 L0.340,-0.688 L0.282,-0.688 C0.262,-0.615 0.19,-0.556 0.096,-0.548 L0.096,-0.494 C0.16,-0.497 0.215,-0.52 0.2515,-0.555 L0.2515,0 Z" fill="#333" stroke="#333" stroke-width="0.0419"/>
<text x="892.54" y="890.20" font-size="24" font-weight="normal" fill="#333" textLength="30.09" lengthAdjust="spacingAndGlyphs" stroke="#333" stroke-width="0.9"> 0</text>
<path transform="translate(892.54,890.20) scale(27.054,24.000)" d="M0.340,0 L0.340,-0.688 L0.282,-0.688 C0.262,-0.615 0.19,-0.556 0.096,-0.548 L0.096,-0.494 C0.16,-0.497 0.215,-0.52 0.2515,-0.555 L0.2515,0 Z" fill="#333" stroke="#333" stroke-width="0.0375"/>
<text x="923.33" y="873.30" font-size="21.5" font-weight="normal" fill="#333" textLength="16.34" lengthAdjust="spacingAndGlyphs" stroke="#333" stroke-width="0.9">2</text>
<text x="972.94" y="890.20" font-size="24" font-weight="normal" fill="#333" textLength="30.09" lengthAdjust="spacingAndGlyphs" stroke="#333" stroke-width="0.9"> 0</text>
<path transform="translate(972.94,890.20) scale(27.054,24.000)" d="M0.340,0 L0.340,-0.688 L0.282,-0.688 C0.262,-0.615 0.19,-0.556 0.096,-0.548 L0.096,-0.494 C0.16,-0.497 0.215,-0.52 0.2515,-0.555 L0.2515,0 Z" fill="#333" stroke="#333" stroke-width="0.0375"/>
<text x="1003.43" y="873.30" font-size="21.5" font-weight="normal" fill="#333" textLength="15.69" lengthAdjust="spacingAndGlyphs" stroke="#333" stroke-width="0.9">3</text>
<text x="1053.24" y="890.20" font-size="24" font-weight="normal" fill="#333" textLength="30.09" lengthAdjust="spacingAndGlyphs" stroke="#333" stroke-width="0.9"> 0</text>
<path transform="translate(1053.24,890.20) scale(27.054,24.000)" d="M0.340,0 L0.340,-0.688 L0.282,-0.688 C0.262,-0.615 0.19,-0.556 0.096,-0.548 L0.096,-0.494 C0.16,-0.497 0.215,-0.52 0.2515,-0.555 L0.2515,0 Z" fill="#333" stroke="#333" stroke-width="0.0375"/>
<text x="1083.42" y="873.30" font-size="21.5" font-weight="normal" fill="#333" textLength="14.76" lengthAdjust="spacingAndGlyphs" stroke="#333" stroke-width="0.9">4</text>
<text x="1133.74" y="890.20" font-size="24" font-weight="normal" fill="#333" textLength="30.09" lengthAdjust="spacingAndGlyphs" stroke="#333" stroke-width="0.9"> 0</text>
<path transform="translate(1133.74,890.20) scale(27.054,24.000)" d="M0.340,0 L0.340,-0.688 L0.282,-0.688 C0.262,-0.615 0.19,-0.556 0.096,-0.548 L0.096,-0.494 C0.16,-0.497 0.215,-0.52 0.2515,-0.555 L0.2515,0 Z" fill="#333" stroke="#333" stroke-width="0.0375"/>
<text x="1164.45" y="873.30" font-size="21.5" font-weight="normal" fill="#333" textLength="14.64" lengthAdjust="spacingAndGlyphs" stroke="#333" stroke-width="0.9">5</text>
</g>
<text x="5.17" y="65.50" font-size="49" font-weight="bold" fill="#231f20" textLength="34.07" lengthAdjust="spacingAndGlyphs">A</text>
<text x="428.25" y="37.50" font-size="45" font-weight="normal" fill="#231f20" textLength="127.38" lengthAdjust="spacingAndGlyphs">COSB</text>
<text x="969.71" y="37.40" font-size="45" font-weight="normal" fill="#231f20" textLength="82.89" lengthAdjust="spacingAndGlyphs">AS5</text>
<text x="41.96" y="265.40" font-size="35" font-weight="normal" fill="#231f20" textLength="125.45" lengthAdjust="spacingAndGlyphs">CSF- R</text>
<path transform="translate(123.01,265.40) scale(34.737,35.000)" d="M0.340,0 L0.340,-0.688 L0.282,-0.688 C0.262,-0.615 0.19,-0.556 0.096,-0.548 L0.096,-0.494 C0.16,-0.497 0.215,-0.52 0.2515,-0.555 L0.2515,0 Z" fill="#231f20"/>
<text x="167.52" y="255.10" font-size="21.2" font-weight="normal" fill="#231f20" textLength="33.23" lengthAdjust="spacingAndGlyphs">low</text>
<text x="37.47" y="695.40" font-size="35" font-weight="normal" fill="#231f20" textLength="124.93" lengthAdjust="spacingAndGlyphs">CSF- R</text>
<path transform="translate(118.18,695.40) scale(34.595,35.000)" d="M0.340,0 L0.340,-0.688 L0.282,-0.688 C0.262,-0.615 0.19,-0.556 0.096,-0.548 L0.096,-0.494 C0.16,-0.497 0.215,-0.52 0.2515,-0.555 L0.2515,0 Z" fill="#231f20"/>
<text x="162.60" y="685.50" font-size="21.8" font-weight="normal" fill="#231f20" textLength="43.90" lengthAdjust="spacingAndGlyphs">high</text>
<g transform="translate(191.3,460) rotate(-90)"><text x="-52.90" y="0.00" font-size="35" font-weight="normal" fill="#231f20" textLength="104.95" lengthAdjust="spacingAndGlyphs">% Max</text></g>
<text x="548.48" y="943.70" font-size="34.6" font-weight="normal" fill="#231f20" textLength="344.19" lengthAdjust="spacingAndGlyphs">Fluorescence Intensity</text>
<text x="4.64" y="1017.80" font-size="34.7" font-weight="normal" fill="#231f20" textLength="207.42" lengthAdjust="spacingAndGlyphs">[LysoTracker]</text>
<rect x="253.9" y="994.8" width="59.8" height="29.5" fill="#d1d2d4" stroke="#231f20" stroke-width="1.8"/>
<text x="325.82" y="1021.10" font-size="35" font-weight="normal" fill="#231f20" textLength="107.79" lengthAdjust="spacingAndGlyphs">= 0 nM</text>
<line x1="481.4" y1="1007.1" x2="540.9" y2="1007.1" stroke="#231f20" stroke-width="4.4"/>
<text x="548.84" y="1020.70" font-size="35" font-weight="normal" fill="#231f20" textLength="106.90" lengthAdjust="spacingAndGlyphs">= 5 nM</text>
<line x1="743.2" y1="1007.5" x2="802.4" y2="1007.5" stroke="#bcbdbf" stroke-width="4.2"/>
<text x="812.62" y="1020.70" font-size="35" font-weight="normal" fill="#231f20" textLength="127.45" lengthAdjust="spacingAndGlyphs">= 25 nM</text>
<rect x="995.6" y="1002.4" width="4.3" height="4.3" fill="#231f20"/>
<rect x="1015.2" y="1002.4" width="4.3" height="4.3" fill="#231f20"/>
<rect x="1035" y="1002.4" width="4.3" height="4.3" fill="#231f20"/>
<text x="1052.58" y="1020.40" font-size="35" font-weight="normal" fill="#231f20" textLength="126.47" lengthAdjust="spacingAndGlyphs">= 50 nM</text>
<text x="4.99" y="1106.90" font-size="49" font-weight="bold" fill="#231f20" textLength="34.04" lengthAdjust="spacingAndGlyphs">B</text>
<path d="M119.30000000000001,1181.0 L130.3,1181.0 L130.3,1472.6" fill="none" stroke="#231f20" stroke-width="4" stroke-linejoin="round"/>
<line x1="119.30000000000001" y1="1462.6" x2="567.9" y2="1462.6" stroke="#231f20" stroke-width="4"/>
<line x1="202.9" y1="1462.6" x2="202.9" y2="1472.6" stroke="#231f20" stroke-width="4"/>
<line x1="275.5" y1="1462.6" x2="275.5" y2="1472.6" stroke="#231f20" stroke-width="4"/>
<line x1="348.1" y1="1462.6" x2="348.1" y2="1472.6" stroke="#231f20" stroke-width="4"/>
<line x1="420.7" y1="1462.6" x2="420.7" y2="1472.6" stroke="#231f20" stroke-width="4"/>
<line x1="493.3" y1="1462.6" x2="493.3" y2="1472.6" stroke="#231f20" stroke-width="4"/>
<line x1="565.9" y1="1462.6" x2="565.9" y2="1472.6" stroke="#231f20" stroke-width="4"/>
<line x1="119.30000000000001" y1="1462.6" x2="130.3" y2="1462.6" stroke="#231f20" stroke-width="4"/>
<text x="104.01" y="1472.34" font-size="28" font-weight="normal" fill="#231f20" textLength="14.17" lengthAdjust="spacingAndGlyphs">0</text>
<line x1="119.30000000000001" y1="1392.2" x2="130.3" y2="1392.2" stroke="#231f20" stroke-width="4"/>
<text x="68.85" y="1401.94" font-size="28" font-weight="normal" fill="#231f20" textLength="49.50" lengthAdjust="spacingAndGlyphs"> 00</text>
<path transform="translate(68.85,1401.94) scale(29.665,28.000)" d="M0.340,0 L0.340,-0.688 L0.282,-0.688 C0.262,-0.615 0.19,-0.556 0.096,-0.548 L0.096,-0.494 C0.16,-0.497 0.215,-0.52 0.2515,-0.555 L0.2515,0 Z" fill="#231f20"/>
<line x1="119.30000000000001" y1="1321.8" x2="130.3" y2="1321.8" stroke="#231f20" stroke-width="4"/>
<text x="69.64" y="1331.54" font-size="28" font-weight="normal" fill="#231f20" textLength="48.68" lengthAdjust="spacingAndGlyphs">200</text>
<line x1="119.30000000000001" y1="1251.4" x2="130.3" y2="1251.4" stroke="#231f20" stroke-width="4"/>
<text x="70.00" y="1261.14" font-size="28" font-weight="normal" fill="#231f20" textLength="48.31" lengthAdjust="spacingAndGlyphs">300</text>
<line x1="119.30000000000001" y1="1181.0" x2="130.3" y2="1181.0" stroke="#231f20" stroke-width="4"/>
<text x="70.47" y="1190.74" font-size="28" font-weight="normal" fill="#231f20" textLength="47.83" lengthAdjust="spacingAndGlyphs">400</text>
<text x="123.07" y="1501.14" font-size="28" font-weight="normal" fill="#231f20" textLength="15.44" lengthAdjust="spacingAndGlyphs">0</text>
<text x="186.40" y="1501.14" font-size="28" font-weight="normal" fill="#231f20" textLength="32.88" lengthAdjust="spacingAndGlyphs"> 0</text>
<path transform="translate(186.40,1501.14) scale(29.559,28.000)" d="M0.340,0 L0.340,-0.688 L0.282,-0.688 C0.262,-0.615 0.19,-0.556 0.096,-0.548 L0.096,-0.494 C0.16,-0.497 0.215,-0.52 0.2515,-0.555 L0.2515,0 Z" fill="#231f20"/>
<text x="259.81" y="1501.14" font-size="28" font-weight="normal" fill="#231f20" textLength="32.04" lengthAdjust="spacingAndGlyphs">20</text>
<text x="332.77" y="1501.14" font-size="28" font-weight="normal" fill="#231f20" textLength="31.67" lengthAdjust="spacingAndGlyphs">30</text>
<text x="405.83" y="1501.14" font-size="28" font-weight="normal" fill="#231f20" textLength="31.19" lengthAdjust="spacingAndGlyphs">40</text>
<text x="477.91" y="1501.14" font-size="28" font-weight="normal" fill="#231f20" textLength="31.73" lengthAdjust="spacingAndGlyphs">50</text>
<text x="550.21" y="1501.14" font-size="28" font-weight="normal" fill="#231f20" textLength="32.04" lengthAdjust="spacingAndGlyphs">60</text>
<path d="M166.6,1433.7 L202.9,1430.9 L311.8,1361.2 L493.3,1209.9" fill="none" stroke="#231f20" stroke-width="4.2" stroke-linejoin="round"/>
<path d="M166.6,1445.4 L202.9,1440.8 L311.8,1407.3 L493.3,1302.3" fill="none" stroke="#231f20" stroke-width="4.2" stroke-linejoin="round"/>
<circle cx="166.6" cy="1445.4" r="8.6" fill="#231f20"/>
<circle cx="202.9" cy="1440.8" r="8.6" fill="#231f20"/>
<circle cx="311.8" cy="1407.3" r="8.6" fill="#231f20"/>
<circle cx="493.3" cy="1302.3" r="8.6" fill="#231f20"/>
<rect x="158.1" y="1425.5" width="17" height="16.4" fill="#231f20"/>
<rect x="194.4" y="1422.7" width="17" height="16.4" fill="#231f20"/>
<rect x="303.3" y="1353.0" width="17" height="16.4" fill="#231f20"/>
<rect x="484.8" y="1201.7" width="17" height="16.4" fill="#231f20"/>
<line x1="179.6" y1="1196.7" x2="212.6" y2="1196.7" stroke="#231f20" stroke-width="4.2" stroke-linecap="round"/>
<rect x="187.5" y="1189.2" width="17.5" height="16.1" fill="#231f20"/>
<line x1="179.6" y1="1240.8" x2="212.6" y2="1240.8" stroke="#231f20" stroke-width="4.2" stroke-linecap="round"/>
<circle cx="195.8" cy="1240.8" r="8.6" fill="#231f20"/>
<text x="228.61" y="1208.70" font-size="28" font-weight="normal" fill="#231f20" textLength="100.69" lengthAdjust="spacingAndGlyphs">CSF- R</text>
<path transform="translate(293.65,1208.70) scale(27.881,28.000)" d="M0.340,0 L0.340,-0.688 L0.282,-0.688 C0.262,-0.615 0.19,-0.556 0.096,-0.548 L0.096,-0.494 C0.16,-0.497 0.215,-0.52 0.2515,-0.555 L0.2515,0 Z" fill="#231f20"/>
<text x="329.07" y="1198.90" font-size="19.5" font-weight="normal" fill="#231f20" textLength="39.17" lengthAdjust="spacingAndGlyphs">high</text>
<text x="228.61" y="1251.70" font-size="28" font-weight="normal" fill="#231f20" textLength="100.69" lengthAdjust="spacingAndGlyphs">CSF- R</text>
<path transform="translate(293.65,1251.70) scale(27.881,28.000)" d="M0.340,0 L0.340,-0.688 L0.282,-0.688 C0.262,-0.615 0.19,-0.556 0.096,-0.548 L0.096,-0.494 C0.16,-0.497 0.215,-0.52 0.2515,-0.555 L0.2515,0 Z" fill="#231f20"/>
<text x="329.15" y="1242.70" font-size="19.5" font-weight="normal" fill="#231f20" textLength="30.30" lengthAdjust="spacingAndGlyphs">low</text>
<text x="239.37" y="1552.60" font-size="28" font-weight="normal" fill="#231f20" textLength="217.14" lengthAdjust="spacingAndGlyphs">LysoTracker [nM]</text>
<g transform="translate(24.2,1313.7) rotate(-90)"><text x="-134.72" y="0.00" font-size="27.8" font-weight="normal" fill="#231f20" textLength="268.44" lengthAdjust="spacingAndGlyphs">Relative Fluorescence</text></g>
<g transform="translate(56.7,1309.5) rotate(-90)"><text x="-50.85" y="0.00" font-size="27.8" font-weight="normal" fill="#231f20" textLength="99.31" lengthAdjust="spacingAndGlyphs">Intensity</text></g>
<path d="M731,1183.0 L742,1183.0 L742,1470" fill="none" stroke="#231f20" stroke-width="4" stroke-linejoin="round"/>
<line x1="731" y1="1460" x2="1185.0" y2="1460" stroke="#231f20" stroke-width="4"/>
<line x1="815.5" y1="1460" x2="815.5" y2="1470" stroke="#231f20" stroke-width="4"/>
<line x1="889.0" y1="1460" x2="889.0" y2="1470" stroke="#231f20" stroke-width="4"/>
<line x1="962.5" y1="1460" x2="962.5" y2="1470" stroke="#231f20" stroke-width="4"/>
<line x1="1036.0" y1="1460" x2="1036.0" y2="1470" stroke="#231f20" stroke-width="4"/>
<line x1="1109.5" y1="1460" x2="1109.5" y2="1470" stroke="#231f20" stroke-width="4"/>
<line x1="1183.0" y1="1460" x2="1183.0" y2="1470" stroke="#231f20" stroke-width="4"/>
<line x1="731" y1="1460.0" x2="742" y2="1460.0" stroke="#231f20" stroke-width="4"/>
<text x="715.51" y="1469.74" font-size="28" font-weight="normal" fill="#231f20" textLength="14.17" lengthAdjust="spacingAndGlyphs">0</text>
<line x1="731" y1="1390.8" x2="742" y2="1390.8" stroke="#231f20" stroke-width="4"/>
<text x="697.76" y="1400.49" font-size="28" font-weight="normal" fill="#231f20" textLength="32.04" lengthAdjust="spacingAndGlyphs">20</text>
<line x1="731" y1="1321.5" x2="742" y2="1321.5" stroke="#231f20" stroke-width="4"/>
<text x="698.58" y="1331.24" font-size="28" font-weight="normal" fill="#231f20" textLength="31.19" lengthAdjust="spacingAndGlyphs">40</text>
<line x1="731" y1="1252.2" x2="742" y2="1252.2" stroke="#231f20" stroke-width="4"/>
<text x="697.76" y="1261.99" font-size="28" font-weight="normal" fill="#231f20" textLength="32.04" lengthAdjust="spacingAndGlyphs">60</text>
<line x1="731" y1="1183.0" x2="742" y2="1183.0" stroke="#231f20" stroke-width="4"/>
<text x="697.97" y="1192.74" font-size="28" font-weight="normal" fill="#231f20" textLength="31.83" lengthAdjust="spacingAndGlyphs">80</text>
<text x="734.77" y="1497.04" font-size="28" font-weight="normal" fill="#231f20" textLength="15.44" lengthAdjust="spacingAndGlyphs">0</text>
<text x="799.00" y="1497.04" font-size="28" font-weight="normal" fill="#231f20" textLength="32.88" lengthAdjust="spacingAndGlyphs"> 0</text>
<path transform="translate(799.00,1497.04) scale(29.559,28.000)" d="M0.340,0 L0.340,-0.688 L0.282,-0.688 C0.262,-0.615 0.19,-0.556 0.096,-0.548 L0.096,-0.494 C0.16,-0.497 0.215,-0.52 0.2515,-0.555 L0.2515,0 Z" fill="#231f20"/>
<text x="873.31" y="1497.04" font-size="28" font-weight="normal" fill="#231f20" textLength="32.04" lengthAdjust="spacingAndGlyphs">20</text>
<text x="947.17" y="1497.04" font-size="28" font-weight="normal" fill="#231f20" textLength="31.67" lengthAdjust="spacingAndGlyphs">30</text>
<text x="1021.13" y="1497.04" font-size="28" font-weight="normal" fill="#231f20" textLength="31.19" lengthAdjust="spacingAndGlyphs">40</text>
<text x="1094.11" y="1497.04" font-size="28" font-weight="normal" fill="#231f20" textLength="31.73" lengthAdjust="spacingAndGlyphs">50</text>
<text x="1167.31" y="1497.04" font-size="28" font-weight="normal" fill="#231f20" textLength="32.04" lengthAdjust="spacingAndGlyphs">60</text>
<path d="M778.8,1444.1 L815.5,1398.0 L925.8,1355.4 L1109.5,1235.3" fill="none" stroke="#231f20" stroke-width="4.2" stroke-linejoin="round"/>
<path d="M778.8,1447.5 L815.5,1439.9 L925.8,1417.8 L1109.5,1309.0" fill="none" stroke="#231f20" stroke-width="4.2" stroke-linejoin="round"/>
<path d="M779,1452 C784,1459 788,1460 798,1460" fill="none" stroke="#231f20" stroke-width="4"/>
<circle cx="778.8" cy="1447.5" r="8.6" fill="#231f20"/>
<circle cx="815.5" cy="1439.9" r="8.6" fill="#231f20"/>
<circle cx="925.8" cy="1417.8" r="8.6" fill="#231f20"/>
<circle cx="1109.5" cy="1309.0" r="8.6" fill="#231f20"/>
<rect x="770.2" y="1435.9" width="17" height="16.4" fill="#231f20"/>
<rect x="807.0" y="1389.8" width="17" height="16.4" fill="#231f20"/>
<rect x="917.2" y="1347.2" width="17" height="16.4" fill="#231f20"/>
<rect x="1101.0" y="1227.1" width="17" height="16.4" fill="#231f20"/>
<line x1="807.1" y1="1196.3" x2="841.2" y2="1196.3" stroke="#231f20" stroke-width="4.2" stroke-linecap="round"/>
<rect x="815.3" y="1188.7" width="17.5" height="15.8" fill="#231f20"/>
<line x1="807.1" y1="1235.8" x2="841.2" y2="1235.8" stroke="#231f20" stroke-width="4.2" stroke-linecap="round"/>
<circle cx="824.2" cy="1235.8" r="9" fill="#231f20"/>
<text x="857.28" y="1207.90" font-size="28" font-weight="normal" fill="#231f20" textLength="102.33" lengthAdjust="spacingAndGlyphs">CSF- R</text>
<path transform="translate(923.39,1207.90) scale(28.336,28.000)" d="M0.340,0 L0.340,-0.688 L0.282,-0.688 C0.262,-0.615 0.19,-0.556 0.096,-0.548 L0.096,-0.494 C0.16,-0.497 0.215,-0.52 0.2515,-0.555 L0.2515,0 Z" fill="#231f20"/>
<text x="959.34" y="1198.10" font-size="19.5" font-weight="normal" fill="#231f20" textLength="40.03" lengthAdjust="spacingAndGlyphs">high</text>
<text x="857.28" y="1246.90" font-size="28" font-weight="normal" fill="#231f20" textLength="102.33" lengthAdjust="spacingAndGlyphs">CSF- R</text>
<path transform="translate(923.39,1246.90) scale(28.336,28.000)" d="M0.340,0 L0.340,-0.688 L0.282,-0.688 C0.262,-0.615 0.19,-0.556 0.096,-0.548 L0.096,-0.494 C0.16,-0.497 0.215,-0.52 0.2515,-0.555 L0.2515,0 Z" fill="#231f20"/>
<text x="959.44" y="1237.60" font-size="19.5" font-weight="normal" fill="#231f20" textLength="30.51" lengthAdjust="spacingAndGlyphs">low</text>
<text x="852.01" y="1548.70" font-size="28" font-weight="normal" fill="#231f20" textLength="223.26" lengthAdjust="spacingAndGlyphs">LysoTracker [nM]</text>
<g transform="translate(636.8,1314.15) rotate(-90)"><text x="-132.44" y="0.00" font-size="27.8" font-weight="normal" fill="#231f20" textLength="263.88" lengthAdjust="spacingAndGlyphs">Relative Fluorescence</text></g>
<g transform="translate(670.6,1309.7) rotate(-90)"><text x="-50.85" y="0.00" font-size="27.8" font-weight="normal" fill="#231f20" textLength="99.31" lengthAdjust="spacingAndGlyphs">Intensity</text></g>
</svg></body></html>
